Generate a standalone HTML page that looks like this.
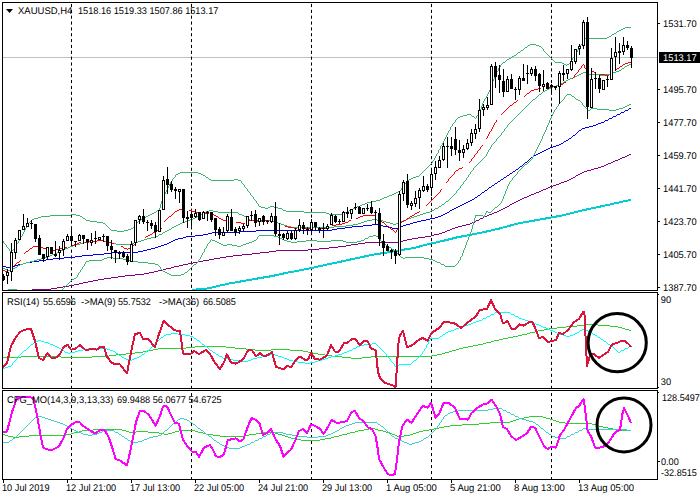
<!DOCTYPE html>
<html><head><meta charset="utf-8"><title>XAUUSD H4</title>
<style>
html,body{margin:0;padding:0;background:#fff;}
body{width:700px;height:500px;position:relative;overflow:hidden;font-family:"Liberation Sans",sans-serif;}
.t{position:absolute;font-family:"Liberation Sans",sans-serif;font-size:9.3px;line-height:12px;height:12px;white-space:nowrap;color:#000;text-rendering:geometricPrecision;transform-origin:0 9.3px;}
</style></head><body>
<svg width="700" height="500" viewBox="0 0 700 500" style="position:absolute;left:0;top:0">
<rect x="0" y="0" width="700" height="500" fill="#fff"/>
<defs><clipPath id="c1"><rect x="3" y="3" width="654" height="287"/></clipPath><clipPath id="c2"><rect x="3" y="293" width="654" height="95"/></clipPath><clipPath id="c3"><rect x="3" y="391" width="654" height="88"/></clipPath></defs>
<rect x="3" y="57" width="655" height="1" fill="#c0c0c0"/>
<line x1="71.5" y1="3" x2="71.5" y2="290" stroke="#000" stroke-width="1" stroke-dasharray="3.2 2.65" stroke-dashoffset="4.95"/>
<line x1="71.5" y1="293" x2="71.5" y2="388" stroke="#000" stroke-width="1" stroke-dasharray="3.1 2.90" stroke-dashoffset="3.20"/>
<line x1="71.5" y1="391" x2="71.5" y2="479" stroke="#000" stroke-width="1" stroke-dasharray="3.1 2.90" stroke-dashoffset="4.00"/>
<line x1="191.5" y1="3" x2="191.5" y2="290" stroke="#000" stroke-width="1" stroke-dasharray="3.2 2.65" stroke-dashoffset="4.95"/>
<line x1="191.5" y1="293" x2="191.5" y2="388" stroke="#000" stroke-width="1" stroke-dasharray="3.1 2.90" stroke-dashoffset="3.20"/>
<line x1="191.5" y1="391" x2="191.5" y2="479" stroke="#000" stroke-width="1" stroke-dasharray="3.1 2.90" stroke-dashoffset="4.00"/>
<line x1="311.5" y1="3" x2="311.5" y2="290" stroke="#000" stroke-width="1" stroke-dasharray="3.2 2.65" stroke-dashoffset="4.95"/>
<line x1="311.5" y1="293" x2="311.5" y2="388" stroke="#000" stroke-width="1" stroke-dasharray="3.1 2.90" stroke-dashoffset="3.20"/>
<line x1="311.5" y1="391" x2="311.5" y2="479" stroke="#000" stroke-width="1" stroke-dasharray="3.1 2.90" stroke-dashoffset="4.00"/>
<line x1="431.5" y1="3" x2="431.5" y2="290" stroke="#000" stroke-width="1" stroke-dasharray="3.2 2.65" stroke-dashoffset="4.95"/>
<line x1="431.5" y1="293" x2="431.5" y2="388" stroke="#000" stroke-width="1" stroke-dasharray="3.1 2.90" stroke-dashoffset="3.20"/>
<line x1="431.5" y1="391" x2="431.5" y2="479" stroke="#000" stroke-width="1" stroke-dasharray="3.1 2.90" stroke-dashoffset="4.00"/>
<line x1="551.5" y1="3" x2="551.5" y2="290" stroke="#000" stroke-width="1" stroke-dasharray="3.2 2.65" stroke-dashoffset="4.95"/>
<line x1="551.5" y1="293" x2="551.5" y2="388" stroke="#000" stroke-width="1" stroke-dasharray="3.1 2.90" stroke-dashoffset="3.20"/>
<line x1="551.5" y1="391" x2="551.5" y2="479" stroke="#000" stroke-width="1" stroke-dasharray="3.1 2.90" stroke-dashoffset="4.00"/>
<g clip-path="url(#c1)">
<polyline points="192.0,289.8 207.0,288.6 228.6,283.6 257.0,278.6 271.4,276.2 285.7,273.0 300.0,270.4 314.3,267.4 320.0,266.1 328.6,264.2 339.8,261.9 355.0,258.5 373.0,254.7 390.0,252.0 404.5,249.5 415.0,247.8 428.6,244.0 440.0,241.6 457.0,237.4 471.4,234.6 485.7,231.7 500.0,228.4 518.0,223.5 551.6,217.4 562.8,215.4 582.4,210.4 602.0,206.2 630.9,199.8" fill="none" stroke="#00ced1" stroke-width="2" stroke-linejoin="round" shape-rendering="crispEdges"/>
<path d="M365 242h34v1h-34zM319 248h10v1h-10zM629 154h2v1h-2zM174 266h5v1h-5zM412 238h6v1h-6zM425 236h6v1h-6zM69 285h5v1h-5zM260 252h9v1h-9zM88 281h5v1h-5zM193 262h5v1h-5zM462 225h4v1h-4zM598 167h3v1h-3zM494 212h3v1h-3zM536 192h3v1h-3zM32 289h19v1h-19zM276 250h32v1h-32zM418 237h7v1h-7zM226 256h7v1h-7zM358 243h7v1h-7zM569 179h2v1h-2zM104 278h7v1h-7zM125 275h10v1h-10zM163 269h3v1h-3zM522 198h2v1h-2zM98 279h6v1h-6zM111 277h7v1h-7zM553 185h3v1h-3zM269 251h7v1h-7zM144 273h5v1h-5zM587 170h4v1h-4zM209 259h5v1h-5zM518 200h2v1h-2zM611 162h2v1h-2zM505 207h2v1h-2zM308 249h11v1h-11zM548 187h2v1h-2zM233 255h9v1h-9zM484 216h3v1h-3zM407 239h5v1h-5zM135 274h9v1h-9zM452 228h3v1h-3zM188 263h5v1h-5zM625 156h2v1h-2zM83 282h5v1h-5zM564 181h3v1h-3zM594 168h4v1h-4zM242 254h10v1h-10zM118 276h7v1h-7zM351 244h7v1h-7zM434 234h5v1h-5zM489 214h3v1h-3zM158 270h5v1h-5zM578 174h2v1h-2zM338 246h8v1h-8zM51 288h6v1h-6zM606 164h2v1h-2zM203 260h6v1h-6zM329 247h9v1h-9zM403 240h4v1h-4zM57 287h6v1h-6zM79 283h4v1h-4zM514 202h2v1h-2zM183 264h5v1h-5zM501 209h2v1h-2zM543 189h3v1h-3zM346 245h5v1h-5zM559 183h2v1h-2zM529 195h2v1h-2zM476 220h3v1h-3zM63 286h6v1h-6zM171 267h3v1h-3zM252 253h8v1h-8zM524 197h3v1h-3zM458 226h4v1h-4zM601 166h3v1h-3zM571 178h2v1h-2zM431 235h3v1h-3zM74 284h5v1h-5zM466 224h4v1h-4zM510 204h2v1h-2zM497 211h2v1h-2zM584 171h3v1h-3zM439 233h3v1h-3zM166 268h5v1h-5zM613 161h2v1h-2zM550 186h3v1h-3zM472 222h3v1h-3zM220 257h6v1h-6zM455 227h3v1h-3zM520 199h2v1h-2zM93 280h5v1h-5zM154 271h4v1h-4zM556 184h3v1h-3zM492 213h2v1h-2zM567 180h2v1h-2zM179 265h4v1h-4zM198 261h5v1h-5zM561 182h3v1h-3zM531 194h3v1h-3zM214 258h6v1h-6zM512 203h2v1h-2zM608 163h3v1h-3zM503 208h2v1h-2zM546 188h2v1h-2zM450 229h2v1h-2zM582 172h2v1h-2zM149 272h5v1h-5zM516 201h2v1h-2zM591 169h3v1h-3zM620 158h2v1h-2zM527 196h2v1h-2zM399 241h4v1h-4zM604 165h2v1h-2zM499 210h2v1h-2zM573 177h2v1h-2zM442 232h3v1h-3zM470 223h2v1h-2zM480 218h3v1h-3zM615 160h3v1h-3zM447 230h3v1h-3zM622 157h3v1h-3zM534 193h2v1h-2zM487 215h2v1h-2zM580 173h2v1h-2zM507 206h2v1h-2zM445 231h2v1h-2zM618 159h2v1h-2zM541 190h2v1h-2zM576 175h2v1h-2zM539 191h2v1h-2zM627 155h2v1h-2zM475 221h1v1h-1zM479 219h1v1h-1zM509 205h1v1h-1zM575 176h1v1h-1zM483 217h1v1h-1z" fill="#800080" shape-rendering="crispEdges"/>
<path d="M32 261h7v1h-7zM212 232h28v1h-28zM430 218h5v1h-5zM18 264h5v1h-5zM195 235h8v1h-8zM64 257h11v1h-11zM460 205h2v1h-2zM492 185h2v1h-2zM485 190h2v1h-2zM256 230h76v1h-76zM240 231h16v1h-16zM363 225h9v1h-9zM379 225h4v1h-4zM403 225h3v1h-3zM596 124h2v1h-2zM147 249h4v1h-4zM111 252h27v1h-27zM605 120h3v1h-3zM337 228h8v1h-8zM392 228h6v1h-6zM104 253h7v1h-7zM93 254h11v1h-11zM601 122h3v1h-3zM155 247h3v1h-3zM417 221h4v1h-4zM569 138h2v1h-2zM352 226h11v1h-11zM383 226h5v1h-5zM400 226h3v1h-3zM372 224h7v1h-7zM406 224h4v1h-4zM561 143h2v1h-2zM82 255h11v1h-11zM186 236h9v1h-9zM203 234h5v1h-5zM53 258h11v1h-11zM531 157h2v1h-2zM171 241h2v1h-2zM573 135h2v1h-2zM3 266h3v1h-3zM10 266h5v1h-5zM456 207h2v1h-2zM489 187h2v1h-2zM143 250h4v1h-4zM589 126h4v1h-4zM550 147h3v1h-3zM498 181h2v1h-2zM151 248h4v1h-4zM510 173h2v1h-2zM183 237h3v1h-3zM75 256h7v1h-7zM438 216h3v1h-3zM26 262h6v1h-6zM6 267h4v1h-4zM556 145h3v1h-3zM345 227h7v1h-7zM388 227h4v1h-4zM398 227h2v1h-2zM167 243h2v1h-2zM138 251h5v1h-5zM452 209h2v1h-2zM161 245h3v1h-3zM426 219h4v1h-4zM621 112h3v1h-3zM525 162h2v1h-2zM546 149h2v1h-2zM178 238h5v1h-5zM495 183h2v1h-2zM39 260h7v1h-7zM475 197h2v1h-2zM507 175h2v1h-2zM413 222h4v1h-4zM598 123h3v1h-3zM158 246h3v1h-3zM421 220h5v1h-5zM617 114h3v1h-3zM458 206h2v1h-2zM164 244h3v1h-3zM208 233h4v1h-4zM585 127h4v1h-4zM173 240h2v1h-2zM332 229h5v1h-5zM472 199h2v1h-2zM548 148h2v1h-2zM169 242h2v1h-2zM410 223h3v1h-3zM593 125h3v1h-3zM544 150h2v1h-2zM435 217h3v1h-3zM553 146h3v1h-3zM613 116h3v1h-3zM582 128h3v1h-3zM454 208h2v1h-2zM609 118h3v1h-3zM15 265h3v1h-3zM504 177h2v1h-2zM516 169h2v1h-2zM540 152h2v1h-2zM629 108h2v1h-2zM520 166h2v1h-2zM23 263h3v1h-3zM478 195h2v1h-2zM513 171h2v1h-2zM579 130h2v1h-2zM450 210h2v1h-2zM559 144h2v1h-2zM447 212h2v1h-2zM501 179h2v1h-2zM175 239h3v1h-3zM470 200h2v1h-2zM536 154h2v1h-2zM482 192h2v1h-2zM466 202h2v1h-2zM46 259h7v1h-7zM443 214h2v1h-2zM566 140h2v1h-2zM462 204h2v1h-2zM625 110h3v1h-3zM542 151h2v1h-2zM445 213h2v1h-2zM538 153h2v1h-2zM468 201h2v1h-2zM441 215h2v1h-2zM534 155h2v1h-2zM464 203h2v1h-2zM564 141h2v1h-2zM620 113h1v1h-1zM494 184h1v1h-1zM616 115h1v1h-1zM506 176h1v1h-1zM519 167h1v1h-1zM524 163h1v1h-1zM578 131h1v1h-1zM480 194h1v1h-1zM568 139h1v1h-1zM529 159h1v1h-1zM612 117h1v1h-1zM484 191h1v1h-1zM530 158h1v1h-1zM572 136h1v1h-1zM577 132h1v1h-1zM523 164h1v1h-1zM497 182h1v1h-1zM527 161h1v1h-1zM571 137h1v1h-1zM528 160h1v1h-1zM533 156h1v1h-1zM488 188h1v1h-1zM474 198h1v1h-1zM518 168h1v1h-1zM576 133h1v1h-1zM563 142h1v1h-1zM509 174h1v1h-1zM522 165h1v1h-1zM581 129h1v1h-1zM608 119h1v1h-1zM500 180h1v1h-1zM487 189h1v1h-1zM477 196h1v1h-1zM575 134h1v1h-1zM628 109h1v1h-1zM491 186h1v1h-1zM449 211h1v1h-1zM604 121h1v1h-1zM512 172h1v1h-1zM624 111h1v1h-1zM503 178h1v1h-1zM481 193h1v1h-1zM515 170h1v1h-1z" fill="#0000e6" shape-rendering="crispEdges"/>
<path d="M259 206h2v1h-2zM270 206h4v1h-4zM357 206h3v1h-3zM178 173h2v1h-2zM198 173h3v1h-3zM625 27h6v1h-6zM203 175h2v1h-2zM411 178h2v1h-2zM32 219h2v1h-2zM50 215h21v1h-21zM76 215h4v1h-4zM148 215h2v1h-2zM211 180h23v1h-23zM238 180h3v1h-3zM407 180h2v1h-2zM34 218h4v1h-4zM83 218h2v1h-2zM142 218h2v1h-2zM380 199h2v1h-2zM180 172h18v1h-18zM71 214h5v1h-5zM150 214h2v1h-2zM329 214h14v1h-14zM362 204h3v1h-3zM518 52h2v1h-2zM398 191h2v1h-2zM528 45h2v1h-2zM536 45h3v1h-3zM394 193h2v1h-2zM97 222h6v1h-6zM154 212h2v1h-2zM304 212h22v1h-22zM345 212h3v1h-3zM41 216h9v1h-9zM80 216h2v1h-2zM146 216h2v1h-2zM416 176h3v1h-3zM530 44h6v1h-6zM514 55h2v1h-2zM206 177h2v1h-2zM413 177h3v1h-3zM396 192h2v1h-2zM286 211h18v1h-18zM617 31h2v1h-2zM367 202h4v1h-4zM585 38h22v1h-22zM609 36h2v1h-2zM117 231h7v1h-7zM463 115h4v1h-4zM152 213h2v1h-2zM326 213h3v1h-3zM343 213h2v1h-2zM562 63h2v1h-2zM261 207h4v1h-4zM268 207h2v1h-2zM274 207h4v1h-4zM507 59h2v1h-2zM86 220h4v1h-4zM564 64h2v1h-2zM567 64h2v1h-2zM90 221h7v1h-7zM138 221h2v1h-2zM503 62h2v1h-2zM555 62h7v1h-7zM614 33h2v1h-2zM265 208h3v1h-3zM278 208h4v1h-4zM353 208h3v1h-3zM376 200h4v1h-4zM128 229h3v1h-3zM387 196h2v1h-2zM209 179h2v1h-2zM234 179h4v1h-4zM409 179h2v1h-2zM458 117h2v1h-2zM157 210h2v1h-2zM283 210h3v1h-3zM349 210h3v1h-3zM392 194h2v1h-2zM111 230h6v1h-6zM124 230h4v1h-4zM38 217h3v1h-3zM144 217h2v1h-2zM525 47h2v1h-2zM389 195h3v1h-3zM539 46h2v1h-2zM365 203h2v1h-2zM512 56h2v1h-2zM131 228h2v1h-2zM176 174h2v1h-2zM201 174h2v1h-2zM460 116h3v1h-3zM472 116h2v1h-2zM360 205h2v1h-2zM509 58h2v1h-2zM521 50h2v1h-2zM382 198h2v1h-2zM371 201h5v1h-5zM384 197h3v1h-3zM467 114h4v1h-4zM623 28h2v1h-2zM103 223h2v1h-2zM619 30h2v1h-2zM11 250h2v1h-2zM607 37h2v1h-2zM621 29h2v1h-2zM612 34h2v1h-2zM166 190h1v2h-1zM484 99h1v2h-1zM168 186h1v2h-1zM161 201h1v3h-1zM486 96h1v2h-1zM492 81h1v3h-1zM479 112h1v2h-1zM496 72h1v3h-1zM14 248h1v1h-1zM256 201h1v2h-1zM425 169h1v1h-1zM426 168h1v1h-1zM477 115h1v1h-1zM483 101h1v2h-1zM495 75h1v1h-1zM85 219h1v1h-1zM438 150h1v3h-1zM440 146h1v3h-1zM257 203h1v1h-1zM505 61h1v1h-1zM352 209h1v1h-1zM444 139h1v2h-1zM3 241h1v2h-1zM424 170h1v1h-1zM584 39h1v2h-1zM159 208h1v2h-1zM455 120h1v2h-1zM17 243h1v1h-1zM19 239h1v2h-1zM517 53h1v1h-1zM248 191h1v1h-1zM451 126h1v1h-1zM580 45h1v2h-1zM164 194h1v2h-1zM163 196h1v3h-1zM165 192h1v2h-1zM454 122h1v1h-1zM482 103h1v3h-1zM160 204h1v4h-1zM582 42h1v2h-1zM453 123h1v1h-1zM169 184h1v2h-1zM493 79h1v2h-1zM401 188h1v2h-1zM403 186h1v1h-1zM516 54h1v1h-1zM404 184h1v2h-1zM249 192h1v1h-1zM258 204h1v2h-1zM452 124h1v2h-1zM450 127h1v3h-1zM25 228h1v2h-1zM434 158h1v2h-1zM400 190h1v1h-1zM402 187h1v1h-1zM436 154h1v2h-1zM520 51h1v1h-1zM9 249h1v2h-1zM162 199h1v2h-1zM511 57h1v1h-1zM134 225h1v2h-1zM500 65h1v2h-1zM167 188h1v2h-1zM15 246h1v2h-1zM435 156h1v2h-1zM241 181h1v2h-1zM576 52h1v1h-1zM250 193h1v2h-1zM543 49h1v2h-1zM578 48h1v2h-1zM481 106h1v3h-1zM480 109h1v3h-1zM498 68h1v3h-1zM491 84h1v3h-1zM499 67h1v1h-1zM24 230h1v2h-1zM471 115h1v1h-1zM282 209h1v1h-1zM442 143h1v2h-1zM448 131h1v2h-1zM575 53h1v2h-1zM577 50h1v2h-1zM447 133h1v2h-1zM449 130h1v1h-1zM23 232h1v2h-1zM247 189h1v2h-1zM6 245h1v2h-1zM432 161h1v2h-1zM487 94h1v2h-1zM581 44h1v1h-1zM583 41h1v1h-1zM456 119h1v1h-1zM457 118h1v1h-1zM348 211h1v1h-1zM431 163h1v1h-1zM572 58h1v2h-1zM574 55h1v2h-1zM31 220h1v1h-1zM446 135h1v2h-1zM406 181h1v2h-1zM476 116h1v2h-1zM20 237h1v2h-1zM175 175h1v2h-1zM490 87h1v3h-1zM7 247h1v1h-1zM27 224h1v2h-1zM571 60h1v2h-1zM422 172h1v1h-1zM573 57h1v1h-1zM30 221h1v1h-1zM445 137h1v2h-1zM171 181h1v1h-1zM173 178h1v1h-1zM489 90h1v2h-1zM136 223h1v1h-1zM137 222h1v1h-1zM8 248h1v1h-1zM26 226h1v2h-1zM420 174h1v1h-1zM421 173h1v1h-1zM106 225h1v1h-1zM524 48h1v1h-1zM544 51h1v1h-1zM244 185h1v2h-1zM170 182h1v2h-1zM172 179h1v2h-1zM488 92h1v2h-1zM133 227h1v1h-1zM253 197h1v2h-1zM135 224h1v1h-1zM502 63h1v1h-1zM419 175h1v1h-1zM443 141h1v2h-1zM107 226h1v1h-1zM545 52h1v1h-1zM205 176h1v1h-1zM523 49h1v1h-1zM245 187h1v1h-1zM494 76h1v3h-1zM254 199h1v1h-1zM506 60h1v1h-1zM13 249h1v1h-1zM16 244h1v2h-1zM18 241h1v2h-1zM616 32h1v1h-1zM108 227h1v1h-1zM82 217h1v1h-1zM5 244h1v1h-1zM246 188h1v1h-1zM255 200h1v1h-1zM439 149h1v1h-1zM552 59h1v1h-1zM547 54h1v1h-1zM433 160h1v1h-1zM110 229h1v1h-1zM548 55h1v1h-1zM174 177h1v1h-1zM105 224h1v1h-1zM22 234h1v2h-1zM429 165h1v1h-1zM430 164h1v1h-1zM485 98h1v1h-1zM29 222h1v1h-1zM405 183h1v1h-1zM141 219h1v1h-1zM252 196h1v1h-1zM427 167h1v1h-1zM428 166h1v1h-1zM28 223h1v1h-1zM549 56h1v1h-1zM437 153h1v1h-1zM474 117h1v1h-1zM140 220h1v1h-1zM356 207h1v1h-1zM554 61h1v1h-1zM243 184h1v1h-1zM501 64h1v1h-1zM527 46h1v1h-1zM550 57h1v1h-1zM478 114h1v1h-1zM579 47h1v1h-1zM546 53h1v1h-1zM566 65h1v1h-1zM475 118h1v1h-1zM4 243h1v1h-1zM541 47h1v1h-1zM569 63h1v1h-1zM570 62h1v1h-1zM423 171h1v1h-1zM551 58h1v1h-1zM109 228h1v1h-1zM611 35h1v1h-1zM156 211h1v1h-1zM553 60h1v1h-1zM497 71h1v1h-1zM441 145h1v1h-1zM542 48h1v1h-1zM242 183h1v1h-1zM251 195h1v1h-1zM10 251h1v1h-1zM208 178h1v1h-1zM21 236h1v1h-1z" fill="#3cb371" shape-rendering="crispEdges"/>
<path d="M195 217h2v1h-2zM411 217h3v1h-3zM190 219h3v1h-3zM372 219h5v1h-5zM406 219h2v1h-2zM89 241h8v1h-8zM103 241h3v1h-3zM138 241h3v1h-3zM178 224h2v1h-2zM281 224h3v1h-3zM353 224h5v1h-5zM393 224h3v1h-3zM172 227h2v1h-2zM291 227h43v1h-43zM204 212h2v1h-2zM218 212h20v1h-20zM426 212h4v1h-4zM625 66h2v1h-2zM41 258h3v1h-3zM18 265h2v1h-2zM73 245h3v1h-3zM570 78h3v1h-3zM187 220h3v1h-3zM250 220h4v1h-4zM264 220h9v1h-9zM367 220h5v1h-5zM377 220h6v1h-6zM403 220h3v1h-3zM84 242h5v1h-5zM106 242h5v1h-5zM134 242h4v1h-4zM8 270h4v1h-4zM182 222h3v1h-3zM275 222h3v1h-3zM361 222h3v1h-3zM386 222h4v1h-4zM398 222h3v1h-3zM176 225h2v1h-2zM284 225h3v1h-3zM346 225h7v1h-7zM52 254h3v1h-3zM180 223h2v1h-2zM278 223h3v1h-3zM358 223h3v1h-3zM390 223h3v1h-3zM396 223h2v1h-2zM193 218h2v1h-2zM247 218h2v1h-2zM408 218h3v1h-3zM47 256h3v1h-3zM97 240h6v1h-6zM141 240h3v1h-3zM80 243h4v1h-4zM111 243h5v1h-5zM131 243h3v1h-3zM57 252h3v1h-3zM185 221h2v1h-2zM254 221h10v1h-10zM273 221h2v1h-2zM364 221h3v1h-3zM383 221h3v1h-3zM401 221h2v1h-2zM167 230h2v1h-2zM197 216h2v1h-2zM244 216h2v1h-2zM414 216h3v1h-3zM616 71h3v1h-3zM533 99h2v1h-2zM37 259h4v1h-4zM76 244h4v1h-4zM116 244h15v1h-15zM206 211h3v1h-3zM213 211h5v1h-5zM559 84h2v1h-2zM15 267h2v1h-2zM201 214h2v1h-2zM239 214h3v1h-3zM420 214h3v1h-3zM44 257h3v1h-3zM579 74h2v1h-2zM589 74h11v1h-11zM605 74h5v1h-5zM163 232h2v1h-2zM26 262h4v1h-4zM174 226h2v1h-2zM287 226h4v1h-4zM334 226h12v1h-12zM30 261h4v1h-4zM55 253h2v1h-2zM147 238h4v1h-4zM553 86h3v1h-3zM627 65h2v1h-2zM583 72h4v1h-4zM613 72h3v1h-3zM20 264h3v1h-3zM159 234h3v1h-3zM619 70h2v1h-2zM577 75h2v1h-2zM600 75h5v1h-5zM439 206h2v1h-2zM199 215h2v1h-2zM242 215h2v1h-2zM417 215h3v1h-3zM169 229h2v1h-2zM423 213h3v1h-3zM70 246h3v1h-3zM155 236h3v1h-3zM561 83h2v1h-2zM566 80h2v1h-2zM151 237h4v1h-4zM556 85h3v1h-3zM435 208h3v1h-3zM165 231h2v1h-2zM5 269h3v1h-3zM3 268h2v1h-2zM13 268h2v1h-2zM65 248h3v1h-3zM34 260h3v1h-3zM581 73h2v1h-2zM587 73h2v1h-2zM610 73h3v1h-3zM144 239h3v1h-3zM209 210h4v1h-4zM431 210h3v1h-3zM629 64h2v1h-2zM23 263h3v1h-3zM68 247h2v1h-2zM549 88h2v1h-2zM568 79h2v1h-2zM622 68h2v1h-2zM442 204h2v1h-2zM545 90h2v1h-2zM564 81h2v1h-2zM446 201h2v1h-2zM50 255h2v1h-2zM575 76h2v1h-2zM551 87h2v1h-2zM61 250h3v1h-3zM547 89h2v1h-2zM539 94h2v1h-2zM573 77h2v1h-2zM543 91h2v1h-2zM624 67h1v1h-1zM517 115h1v1h-1zM563 82h1v1h-1zM525 107h1v1h-1zM451 197h1v1h-1zM500 135h1v1h-1zM515 117h1v1h-1zM430 211h1v1h-1zM523 109h1v1h-1zM484 157h1v1h-1zM486 154h1v2h-1zM444 203h1v1h-1zM485 156h1v1h-1zM487 152h1v2h-1zM450 198h1v1h-1zM496 139h1v2h-1zM498 137h1v1h-1zM499 136h1v1h-1zM482 159h1v1h-1zM468 175h1v2h-1zM483 158h1v1h-1zM448 200h1v1h-1zM449 199h1v1h-1zM495 141h1v1h-1zM464 181h1v1h-1zM466 178h1v2h-1zM481 160h1v1h-1zM513 119h1v1h-1zM491 145h1v2h-1zM460 186h1v2h-1zM511 121h1v1h-1zM64 249h1v1h-1zM507 125h1v2h-1zM526 106h1v1h-1zM12 269h1v1h-1zM501 133h1v2h-1zM503 131h1v1h-1zM504 129h1v2h-1zM506 127h1v1h-1zM524 108h1v1h-1zM532 100h1v1h-1zM502 132h1v1h-1zM470 172h1v2h-1zM473 168h1v2h-1zM456 191h1v2h-1zM467 177h1v1h-1zM469 174h1v1h-1zM514 118h1v1h-1zM521 111h1v1h-1zM463 182h1v2h-1zM162 233h1v1h-1zM203 213h1v1h-1zM497 138h1v1h-1zM512 120h1v1h-1zM519 113h1v1h-1zM520 112h1v1h-1zM249 219h1v1h-1zM493 143h1v1h-1zM438 207h1v1h-1zM158 235h1v1h-1zM479 162h1v1h-1zM480 161h1v1h-1zM492 144h1v1h-1zM60 251h1v1h-1zM477 164h1v1h-1zM478 163h1v1h-1zM538 95h1v1h-1zM509 123h1v1h-1zM536 97h1v1h-1zM537 96h1v1h-1zM505 128h1v1h-1zM542 92h1v1h-1zM522 110h1v1h-1zM530 102h1v1h-1zM475 166h1v1h-1zM488 150h1v2h-1zM490 147h1v2h-1zM459 188h1v1h-1zM461 185h1v1h-1zM528 104h1v1h-1zM471 171h1v1h-1zM455 193h1v1h-1zM457 190h1v1h-1zM453 195h1v1h-1zM454 194h1v1h-1zM434 209h1v1h-1zM510 122h1v1h-1zM518 114h1v1h-1zM452 196h1v1h-1zM441 205h1v1h-1zM508 124h1v1h-1zM516 116h1v1h-1zM171 228h1v1h-1zM445 202h1v1h-1zM465 180h1v1h-1zM541 93h1v1h-1zM531 101h1v1h-1zM476 165h1v1h-1zM462 184h1v1h-1zM472 170h1v1h-1zM529 103h1v1h-1zM474 167h1v1h-1zM535 98h1v1h-1zM458 189h1v1h-1zM489 149h1v1h-1zM494 142h1v1h-1zM238 213h1v1h-1zM527 105h1v1h-1zM17 266h1v1h-1zM246 217h1v1h-1zM621 69h1v1h-1z" fill="#3cb371" shape-rendering="crispEdges"/>
<path d="M8 289h9v1h-9z" fill="#3cb371" shape-rendering="crispEdges"/>
<path d="M215 241h2v1h-2zM252 241h2v1h-2zM287 241h4v1h-4zM297 241h9v1h-9zM317 241h14v1h-14zM343 241h3v1h-3zM357 241h4v1h-4zM597 109h12v1h-12zM616 109h3v1h-3zM280 238h2v1h-2zM365 238h3v1h-3zM171 275h10v1h-10zM629 104h2v1h-2zM282 239h2v1h-2zM217 242h2v1h-2zM249 242h3v1h-3zM291 242h6v1h-6zM346 242h11v1h-11zM259 235h15v1h-15zM373 235h3v1h-3zM138 262h10v1h-10zM437 262h3v1h-3zM588 110h2v1h-2zM609 110h7v1h-7zM212 240h3v1h-3zM254 240h2v1h-2zM284 240h3v1h-3zM306 240h11v1h-11zM331 240h12v1h-12zM361 240h3v1h-3zM89 260h13v1h-13zM128 260h5v1h-5zM433 260h2v1h-2zM591 108h6v1h-6zM619 108h4v1h-4zM278 237h2v1h-2zM102 259h2v1h-2zM123 259h5v1h-5zM429 259h4v1h-4zM445 266h10v1h-10zM495 207h2v1h-2zM237 246h4v1h-4zM483 216h2v1h-2zM155 264h3v1h-3zM194 264h2v1h-2zM441 264h3v1h-3zM107 257h6v1h-6zM401 257h2v1h-2zM405 257h19v1h-19zM274 236h4v1h-4zM369 236h4v1h-4zM376 236h2v1h-2zM104 258h3v1h-3zM113 258h10v1h-10zM403 258h2v1h-2zM424 258h5v1h-5zM148 263h7v1h-7zM576 99h2v1h-2zM475 215h8v1h-8zM167 273h2v1h-2zM627 105h2v1h-2zM221 244h2v1h-2zM227 244h5v1h-5zM243 244h3v1h-3zM486 211h2v1h-2zM219 243h2v1h-2zM246 243h3v1h-3zM383 243h2v1h-2zM488 212h3v1h-3zM165 272h2v1h-2zM185 272h2v1h-2zM223 245h4v1h-4zM232 245h5v1h-5zM241 245h2v1h-2zM386 245h2v1h-2zM169 274h2v1h-2zM181 274h3v1h-3zM392 249h2v1h-2zM86 261h3v1h-3zM133 261h5v1h-5zM435 261h2v1h-2zM525 164h2v1h-2zM625 106h2v1h-2zM572 96h2v1h-2zM74 278h2v1h-2zM567 94h4v1h-4zM163 271h2v1h-2zM389 247h2v1h-2zM72 279h2v1h-2zM578 100h2v1h-2zM623 107h2v1h-2zM395 251h1v1h-1zM463 250h1v3h-1zM559 103h1v1h-1zM68 283h1v1h-1zM539 143h1v2h-1zM550 118h1v2h-1zM552 114h1v2h-1zM551 116h1v2h-1zM543 134h1v2h-1zM545 130h1v2h-1zM504 194h1v2h-1zM571 95h1v1h-1zM396 252h1v1h-1zM468 237h1v3h-1zM582 103h1v2h-1zM508 184h1v2h-1zM524 165h1v1h-1zM503 196h1v3h-1zM197 262h1v1h-1zM532 157h1v2h-1zM192 266h1v1h-1zM378 237h1v1h-1zM507 186h1v3h-1zM161 269h1v1h-1zM204 249h1v3h-1zM206 246h1v2h-1zM205 248h1v1h-1zM517 172h1v2h-1zM190 268h1v1h-1zM191 267h1v1h-1zM379 238h1v1h-1zM77 275h1v2h-1zM460 257h1v3h-1zM397 253h1v1h-1zM462 253h1v3h-1zM474 218h1v4h-1zM162 270h1v1h-1zM537 147h1v2h-1zM549 120h1v3h-1zM523 166h1v1h-1zM189 269h1v1h-1zM553 112h1v2h-1zM485 213h1v2h-1zM466 242h1v3h-1zM505 191h1v3h-1zM584 106h1v1h-1zM184 273h1v1h-1zM470 232h1v3h-1zM71 280h1v1h-1zM399 255h1v1h-1zM385 244h1v1h-1zM506 189h1v2h-1zM535 151h1v2h-1zM202 253h1v2h-1zM201 255h1v2h-1zM203 252h1v1h-1zM69 282h1v1h-1zM546 127h1v3h-1zM586 108h1v1h-1zM541 139h1v2h-1zM547 125h1v2h-1zM84 264h1v2h-1zM458 261h1v2h-1zM459 260h1v1h-1zM473 222h1v3h-1zM494 208h1v1h-1zM400 256h1v1h-1zM499 204h1v1h-1zM540 141h1v2h-1zM257 237h1v2h-1zM85 262h1v2h-1zM455 265h1v1h-1zM258 236h1v1h-1zM472 225h1v4h-1zM469 235h1v2h-1zM200 257h1v2h-1zM587 109h1v1h-1zM207 244h1v2h-1zM210 240h1v2h-1zM464 248h1v2h-1zM531 159h1v1h-1zM199 259h1v1h-1zM583 105h1v1h-1zM533 155h1v2h-1zM538 145h1v2h-1zM563 99h1v1h-1zM509 182h1v2h-1zM160 267h1v2h-1zM530 160h1v1h-1zM467 240h1v2h-1zM196 263h1v1h-1zM198 260h1v2h-1zM529 161h1v1h-1zM79 272h1v1h-1zM561 101h1v1h-1zM81 269h1v1h-1zM82 267h1v2h-1zM527 163h1v1h-1zM471 229h1v3h-1zM528 162h1v1h-1zM380 239h1v2h-1zM391 248h1v1h-1zM188 270h1v1h-1zM555 109h1v1h-1zM557 106h1v1h-1zM556 107h1v2h-1zM78 273h1v2h-1zM558 104h1v2h-1zM80 270h1v2h-1zM501 201h1v2h-1zM475 216h1v2h-1zM585 107h1v1h-1zM534 153h1v2h-1zM536 149h1v2h-1zM187 271h1v1h-1zM542 136h1v3h-1zM521 168h1v1h-1zM364 239h1v1h-1zM554 110h1v2h-1zM548 123h1v2h-1zM544 132h1v2h-1zM500 203h1v1h-1zM502 199h1v2h-1zM465 245h1v3h-1zM574 97h1v1h-1zM519 170h1v1h-1zM520 169h1v1h-1zM158 265h1v1h-1zM498 205h1v1h-1zM67 284h1v1h-1zM515 175h1v1h-1zM493 209h1v1h-1zM516 174h1v1h-1zM159 266h1v1h-1zM76 277h1v1h-1zM461 256h1v1h-1zM65 286h1v1h-1zM66 285h1v1h-1zM566 95h1v1h-1zM491 211h1v1h-1zM512 178h1v2h-1zM492 210h1v1h-1zM564 97h1v2h-1zM575 98h1v1h-1zM209 242h1v1h-1zM211 239h1v1h-1zM562 100h1v1h-1zM381 241h1v1h-1zM565 96h1v1h-1zM64 287h1v1h-1zM208 243h1v1h-1zM382 242h1v1h-1zM522 167h1v1h-1zM457 263h1v1h-1zM590 109h1v1h-1zM368 237h1v1h-1zM444 265h1v1h-1zM256 239h1v1h-1zM193 265h1v1h-1zM580 101h1v1h-1zM581 102h1v1h-1zM484 215h1v1h-1zM486 212h1v1h-1zM518 171h1v1h-1zM497 206h1v1h-1zM398 254h1v1h-1zM514 176h1v1h-1zM511 180h1v1h-1zM440 263h1v1h-1zM394 250h1v1h-1zM510 181h1v1h-1zM513 177h1v1h-1zM62 289h1v1h-1zM560 102h1v1h-1zM63 288h1v1h-1zM388 246h1v1h-1zM83 266h1v1h-1zM456 264h1v1h-1zM70 281h1v1h-1z" fill="#3cb371" shape-rendering="crispEdges"/>
<path d="M5 271h2v1h-2zM3 270h2v1h-2z" fill="#ff0000" shape-rendering="crispEdges"/>
<path d="M17 262h2v1h-2zM14 265h1v1h-1zM19 261h1v1h-1zM16 263h1v1h-1zM15 264h1v1h-1zM20 260h1v1h-1z" fill="#ff0000" shape-rendering="crispEdges"/>
<path d="M30 248h2v1h-2zM26 251h2v1h-2zM33 246h5v1h-5zM28 250h1v1h-1zM24 253h1v1h-1zM25 252h1v1h-1zM32 247h1v1h-1zM29 249h1v1h-1z" fill="#ff0000" shape-rendering="crispEdges"/>
<path d="M43 248h4v1h-4zM41 247h2v1h-2z" fill="#ff0000" shape-rendering="crispEdges"/>
<path d="M55 249h4v1h-4zM59 248h5v1h-5zM52 250h3v1h-3zM64 247h3v1h-3z" fill="#ff0000" shape-rendering="crispEdges"/>
<path d="M72 245h2v1h-2zM77 243h2v1h-2zM79 242h2v1h-2zM74 244h3v1h-3z" fill="#ff0000" shape-rendering="crispEdges"/>
<path d="M89 241h8v1h-8zM103 241h2v1h-2zM97 240h6v1h-6zM85 242h4v1h-4z" fill="#ff0000" shape-rendering="crispEdges"/>
<path d="M108 242h3v1h-3zM111 243h3v1h-3z" fill="#ff0000" shape-rendering="crispEdges"/>
<path d="M124 248h3v1h-3zM128 248h2v1h-2zM132 245h2v1h-2zM121 246h2v1h-2zM131 246h1v1h-1zM134 244h1v1h-1zM130 247h1v1h-1zM123 247h1v1h-1zM127 249h1v1h-1z" fill="#ff0000" shape-rendering="crispEdges"/>
<path d="M159 229h2v1h-2zM153 232h2v1h-2zM148 235h2v1h-2zM146 236h2v1h-2zM155 231h2v1h-2zM150 234h2v1h-2zM157 230h2v1h-2zM152 233h1v1h-1zM145 237h1v1h-1zM161 228h1v1h-1z" fill="#ff0000" shape-rendering="crispEdges"/>
<path d="M179 209h4v1h-4zM177 210h2v1h-2zM169 216h2v1h-2zM175 211h2v1h-2zM168 217h1v1h-1zM166 219h1v1h-1zM173 213h1v1h-1zM171 215h1v1h-1zM167 218h1v1h-1zM174 212h1v1h-1zM172 214h1v1h-1zM164 221h1v1h-1zM165 220h1v1h-1z" fill="#ff0000" shape-rendering="crispEdges"/>
<path d="M192 211h4v1h-4zM189 210h3v1h-3zM196 212h3v1h-3z" fill="#ff0000" shape-rendering="crispEdges"/>
<path d="M204 213h5v1h-5z" fill="#ff0000" shape-rendering="crispEdges"/>
<path d="M223 220h4v1h-4zM216 216h2v1h-2zM221 219h2v1h-2zM219 218h2v1h-2zM214 215h2v1h-2zM213 214h1v1h-1zM218 217h1v1h-1z" fill="#ff0000" shape-rendering="crispEdges"/>
<path d="M241 223h4v1h-4zM236 222h5v1h-5z" fill="#ff0000" shape-rendering="crispEdges"/>
<path d="M249 220h20v1h-20z" fill="#ff0000" shape-rendering="crispEdges"/>
<path d="M285 226h3v1h-3zM294 228h3v1h-3zM288 227h6v1h-6z" fill="#ff0000" shape-rendering="crispEdges"/>
<path d="M302 228h11v1h-11z" fill="#ff0000" shape-rendering="crispEdges"/>
<path d="M318 228h11v1h-11z" fill="#ff0000" shape-rendering="crispEdges"/>
<path d="M349 220h2v1h-2zM332 225h4v1h-4zM336 224h6v1h-6zM342 223h3v1h-3zM345 222h3v1h-3zM348 221h1v1h-1z" fill="#ff0000" shape-rendering="crispEdges"/>
<path d="M363 215h12v1h-12zM356 218h2v1h-2zM360 216h3v1h-3zM358 217h2v1h-2z" fill="#ff0000" shape-rendering="crispEdges"/>
<path d="M382 222h2v1h-2zM384 223h1v1h-1zM386 225h1v1h-1zM381 221h1v1h-1zM385 224h1v1h-1zM380 220h1v1h-1z" fill="#ff0000" shape-rendering="crispEdges"/>
<path d="M391 229h2v1h-2zM395 232h1v1h-1zM390 228h1v1h-1zM397 229h1v1h-1zM396 230h1v2h-1zM398 227h1v2h-1zM389 227h1v1h-1zM393 230h1v1h-1zM394 231h1v1h-1zM388 226h1v1h-1z" fill="#ff0000" shape-rendering="crispEdges"/>
<path d="M410 216h2v1h-2zM412 215h2v1h-2zM402 221h2v1h-2zM404 220h2v1h-2zM415 213h2v1h-2zM417 212h2v1h-2zM407 218h2v1h-2zM401 222h1v1h-1zM414 214h1v1h-1zM406 219h1v1h-1zM409 217h1v1h-1zM419 211h1v1h-1z" fill="#ff0000" shape-rendering="crispEdges"/>
<path d="M427 204h1v1h-1zM428 203h1v1h-1zM440 190h1v2h-1zM438 193h1v1h-1zM431 200h1v1h-1zM437 194h1v1h-1zM426 205h1v1h-1zM429 202h1v1h-1zM435 196h1v1h-1zM430 201h1v1h-1zM432 199h1v1h-1zM433 198h1v1h-1zM439 192h1v1h-1zM441 189h1v1h-1zM436 195h1v1h-1zM434 197h1v1h-1z" fill="#ff0000" shape-rendering="crispEdges"/>
<path d="M459 168h3v1h-3zM456 170h2v1h-2zM452 175h1v1h-1zM448 179h1v2h-1zM450 177h1v1h-1zM453 174h1v1h-1zM462 167h1v1h-1zM454 172h1v2h-1zM451 176h1v1h-1zM447 181h1v1h-1zM449 178h1v1h-1zM446 182h1v1h-1zM458 169h1v1h-1zM455 171h1v1h-1z" fill="#ff0000" shape-rendering="crispEdges"/>
<path d="M474 155h1v2h-1zM480 147h1v2h-1zM469 162h1v1h-1zM472 158h1v1h-1zM481 146h1v1h-1zM475 154h1v1h-1zM477 151h1v2h-1zM470 161h1v1h-1zM471 159h1v2h-1zM473 157h1v1h-1zM482 145h1v1h-1zM476 153h1v1h-1zM478 150h1v1h-1zM479 149h1v1h-1z" fill="#ff0000" shape-rendering="crispEdges"/>
<path d="M496 120h1v2h-1zM488 134h1v2h-1zM490 131h1v1h-1zM489 132h1v2h-1zM492 127h1v2h-1zM491 129h1v2h-1zM493 125h1v2h-1zM486 138h1v1h-1zM487 136h1v2h-1zM494 123h1v2h-1zM495 122h1v1h-1z" fill="#ff0000" shape-rendering="crispEdges"/>
<path d="M514 102h2v1h-2zM510 105h2v1h-2zM513 103h1v1h-1zM505 110h1v1h-1zM507 108h1v1h-1zM508 107h1v1h-1zM517 100h1v1h-1zM509 106h1v1h-1zM506 109h1v1h-1zM502 113h1v1h-1zM503 112h1v1h-1zM504 111h1v1h-1zM501 114h1v1h-1zM516 101h1v1h-1zM512 104h1v1h-1z" fill="#ff0000" shape-rendering="crispEdges"/>
<path d="M538 88h3v1h-3zM531 90h3v1h-3zM527 93h2v1h-2zM534 89h4v1h-4zM526 94h1v1h-1zM525 95h1v1h-1zM524 96h1v1h-1zM529 92h1v1h-1zM530 91h1v1h-1z" fill="#ff0000" shape-rendering="crispEdges"/>
<path d="M548 87h4v1h-4zM552 86h4v1h-4z" fill="#ff0000" shape-rendering="crispEdges"/>
<path d="M561 84h2v1h-2zM564 82h2v1h-2zM563 83h1v1h-1z" fill="#ff0000" shape-rendering="crispEdges"/>
<path d="M577 72h1v1h-1zM579 69h1v1h-1zM582 65h1v1h-1zM576 73h1v1h-1zM578 70h1v2h-1zM573 77h1v1h-1zM581 66h1v2h-1zM584 65h1v3h-1zM572 78h1v1h-1zM574 75h1v2h-1zM575 74h1v1h-1zM585 68h1v1h-1zM583 64h1v1h-1zM580 68h1v1h-1z" fill="#ff0000" shape-rendering="crispEdges"/>
<path d="M594 72h2v1h-2zM592 71h2v1h-2z" fill="#ff0000" shape-rendering="crispEdges"/>
<path d="M605 75h4v1h-4zM600 74h5v1h-5z" fill="#ff0000" shape-rendering="crispEdges"/>
<path d="M628 62h3v1h-3zM617 68h2v1h-2zM625 63h3v1h-3zM623 64h2v1h-2zM620 66h2v1h-2zM622 65h1v1h-1zM619 67h1v1h-1zM616 69h1v1h-1z" fill="#ff0000" shape-rendering="crispEdges"/>
<g shape-rendering="crispEdges">
<rect x="3" y="274" width="1" height="7" fill="#000"/>
<rect x="2" y="276" width="3" height="4" fill="#000"/>
<rect x="7" y="269" width="1" height="15" fill="#000"/>
<rect x="6" y="272" width="3" height="4" fill="#000"/>
<rect x="7" y="273" width="1" height="2" fill="#fff"/>
<rect x="11" y="243" width="1" height="38" fill="#000"/>
<rect x="10" y="252" width="3" height="20" fill="#000"/>
<rect x="11" y="253" width="1" height="18" fill="#fff"/>
<rect x="15" y="238" width="1" height="21" fill="#000"/>
<rect x="14" y="240" width="3" height="13" fill="#000"/>
<rect x="15" y="241" width="1" height="11" fill="#fff"/>
<rect x="19" y="230" width="1" height="10" fill="#000"/>
<rect x="18" y="230" width="3" height="10" fill="#000"/>
<rect x="19" y="231" width="1" height="8" fill="#fff"/>
<rect x="23" y="214" width="1" height="16" fill="#000"/>
<rect x="22" y="226" width="3" height="4" fill="#000"/>
<rect x="23" y="227" width="1" height="2" fill="#fff"/>
<rect x="27" y="218" width="1" height="9" fill="#000"/>
<rect x="26" y="223" width="3" height="4" fill="#000"/>
<rect x="27" y="224" width="1" height="2" fill="#fff"/>
<rect x="31" y="220" width="1" height="9" fill="#000"/>
<rect x="30" y="223" width="3" height="1" fill="#000"/>
<rect x="35" y="224" width="1" height="18" fill="#000"/>
<rect x="34" y="224" width="3" height="15" fill="#000"/>
<rect x="39" y="235" width="1" height="20" fill="#000"/>
<rect x="38" y="238" width="3" height="17" fill="#000"/>
<rect x="43" y="254" width="1" height="8" fill="#000"/>
<rect x="42" y="254" width="3" height="5" fill="#000"/>
<rect x="47" y="247" width="1" height="12" fill="#000"/>
<rect x="46" y="247" width="3" height="10" fill="#000"/>
<rect x="47" y="248" width="1" height="8" fill="#fff"/>
<rect x="51" y="247" width="1" height="7" fill="#000"/>
<rect x="50" y="247" width="3" height="7" fill="#000"/>
<rect x="55" y="241" width="1" height="16" fill="#000"/>
<rect x="54" y="254" width="3" height="2" fill="#000"/>
<rect x="59" y="246" width="1" height="14" fill="#000"/>
<rect x="58" y="250" width="3" height="3" fill="#000"/>
<rect x="59" y="251" width="1" height="1" fill="#fff"/>
<rect x="63" y="239" width="1" height="17" fill="#000"/>
<rect x="62" y="241" width="3" height="9" fill="#000"/>
<rect x="63" y="242" width="1" height="7" fill="#fff"/>
<rect x="67" y="234" width="1" height="7" fill="#000"/>
<rect x="66" y="236" width="3" height="5" fill="#000"/>
<rect x="67" y="237" width="1" height="3" fill="#fff"/>
<rect x="71" y="229" width="1" height="15" fill="#000"/>
<rect x="70" y="236" width="3" height="5" fill="#000"/>
<rect x="75" y="241" width="1" height="6" fill="#000"/>
<rect x="74" y="241" width="3" height="1" fill="#000"/>
<rect x="79" y="234" width="1" height="7" fill="#000"/>
<rect x="78" y="235" width="3" height="6" fill="#000"/>
<rect x="79" y="236" width="1" height="4" fill="#fff"/>
<rect x="83" y="235" width="1" height="9" fill="#000"/>
<rect x="82" y="235" width="3" height="4" fill="#000"/>
<rect x="87" y="239" width="1" height="11" fill="#000"/>
<rect x="86" y="239" width="3" height="3" fill="#000"/>
<rect x="91" y="233" width="1" height="13" fill="#000"/>
<rect x="90" y="240" width="3" height="3" fill="#000"/>
<rect x="91" y="241" width="1" height="1" fill="#fff"/>
<rect x="95" y="231" width="1" height="13" fill="#000"/>
<rect x="94" y="238" width="3" height="1" fill="#000"/>
<rect x="99" y="237" width="1" height="3" fill="#000"/>
<rect x="98" y="237" width="3" height="3" fill="#000"/>
<rect x="99" y="238" width="1" height="1" fill="#fff"/>
<rect x="103" y="234" width="1" height="8" fill="#000"/>
<rect x="102" y="236" width="3" height="1" fill="#000"/>
<rect x="107" y="236" width="1" height="15" fill="#000"/>
<rect x="106" y="236" width="3" height="10" fill="#000"/>
<rect x="111" y="240" width="1" height="19" fill="#000"/>
<rect x="110" y="246" width="3" height="4" fill="#000"/>
<rect x="115" y="250" width="1" height="13" fill="#000"/>
<rect x="114" y="250" width="3" height="3" fill="#000"/>
<rect x="119" y="251" width="1" height="8" fill="#000"/>
<rect x="118" y="253" width="3" height="1" fill="#000"/>
<rect x="123" y="251" width="1" height="7" fill="#000"/>
<rect x="122" y="253" width="3" height="4" fill="#000"/>
<rect x="127" y="254" width="1" height="11" fill="#000"/>
<rect x="126" y="256" width="3" height="6" fill="#000"/>
<rect x="131" y="241" width="1" height="21" fill="#000"/>
<rect x="130" y="244" width="3" height="18" fill="#000"/>
<rect x="131" y="245" width="1" height="16" fill="#fff"/>
<rect x="135" y="220" width="1" height="26" fill="#000"/>
<rect x="134" y="220" width="3" height="23" fill="#000"/>
<rect x="135" y="221" width="1" height="21" fill="#fff"/>
<rect x="139" y="215" width="1" height="9" fill="#000"/>
<rect x="138" y="216" width="3" height="4" fill="#000"/>
<rect x="139" y="217" width="1" height="2" fill="#fff"/>
<rect x="143" y="209" width="1" height="15" fill="#000"/>
<rect x="142" y="216" width="3" height="6" fill="#000"/>
<rect x="147" y="220" width="1" height="11" fill="#000"/>
<rect x="146" y="222" width="3" height="1" fill="#000"/>
<rect x="151" y="220" width="1" height="9" fill="#000"/>
<rect x="150" y="223" width="3" height="3" fill="#000"/>
<rect x="155" y="222" width="1" height="16" fill="#000"/>
<rect x="154" y="225" width="3" height="7" fill="#000"/>
<rect x="159" y="210" width="1" height="22" fill="#000"/>
<rect x="158" y="210" width="3" height="22" fill="#000"/>
<rect x="159" y="211" width="1" height="20" fill="#fff"/>
<rect x="163" y="176" width="1" height="34" fill="#000"/>
<rect x="162" y="180" width="3" height="30" fill="#000"/>
<rect x="163" y="181" width="1" height="28" fill="#fff"/>
<rect x="167" y="167" width="1" height="27" fill="#000"/>
<rect x="166" y="179" width="3" height="6" fill="#000"/>
<rect x="171" y="181" width="1" height="11" fill="#000"/>
<rect x="170" y="184" width="3" height="6" fill="#000"/>
<rect x="175" y="187" width="1" height="12" fill="#000"/>
<rect x="174" y="189" width="3" height="2" fill="#000"/>
<rect x="179" y="189" width="1" height="14" fill="#000"/>
<rect x="178" y="189" width="3" height="3" fill="#000"/>
<rect x="179" y="190" width="1" height="1" fill="#fff"/>
<rect x="183" y="189" width="1" height="34" fill="#000"/>
<rect x="182" y="189" width="3" height="29" fill="#000"/>
<rect x="187" y="211" width="1" height="17" fill="#000"/>
<rect x="186" y="217" width="3" height="2" fill="#000"/>
<rect x="191" y="212" width="1" height="14" fill="#000"/>
<rect x="190" y="214" width="3" height="4" fill="#000"/>
<rect x="195" y="209" width="1" height="9" fill="#000"/>
<rect x="194" y="213" width="3" height="4" fill="#000"/>
<rect x="195" y="214" width="1" height="2" fill="#fff"/>
<rect x="199" y="212" width="1" height="9" fill="#000"/>
<rect x="198" y="212" width="3" height="8" fill="#000"/>
<rect x="203" y="211" width="1" height="8" fill="#000"/>
<rect x="202" y="212" width="3" height="7" fill="#000"/>
<rect x="203" y="213" width="1" height="5" fill="#fff"/>
<rect x="207" y="211" width="1" height="10" fill="#000"/>
<rect x="206" y="212" width="3" height="1" fill="#000"/>
<rect x="211" y="212" width="1" height="10" fill="#000"/>
<rect x="210" y="212" width="3" height="8" fill="#000"/>
<rect x="215" y="218" width="1" height="18" fill="#000"/>
<rect x="214" y="218" width="3" height="12" fill="#000"/>
<rect x="219" y="227" width="1" height="12" fill="#000"/>
<rect x="218" y="229" width="3" height="6" fill="#000"/>
<rect x="223" y="227" width="1" height="9" fill="#000"/>
<rect x="222" y="232" width="3" height="4" fill="#000"/>
<rect x="223" y="233" width="1" height="2" fill="#fff"/>
<rect x="227" y="214" width="1" height="18" fill="#000"/>
<rect x="226" y="216" width="3" height="15" fill="#000"/>
<rect x="227" y="217" width="1" height="13" fill="#fff"/>
<rect x="231" y="209" width="1" height="22" fill="#000"/>
<rect x="230" y="217" width="3" height="14" fill="#000"/>
<rect x="235" y="227" width="1" height="9" fill="#000"/>
<rect x="234" y="229" width="3" height="4" fill="#000"/>
<rect x="239" y="226" width="1" height="8" fill="#000"/>
<rect x="238" y="228" width="3" height="3" fill="#000"/>
<rect x="239" y="229" width="1" height="1" fill="#fff"/>
<rect x="243" y="224" width="1" height="7" fill="#000"/>
<rect x="242" y="226" width="3" height="3" fill="#000"/>
<rect x="243" y="227" width="1" height="1" fill="#fff"/>
<rect x="247" y="216" width="1" height="12" fill="#000"/>
<rect x="246" y="216" width="3" height="10" fill="#000"/>
<rect x="247" y="217" width="1" height="8" fill="#fff"/>
<rect x="251" y="211" width="1" height="10" fill="#000"/>
<rect x="250" y="215" width="3" height="1" fill="#000"/>
<rect x="255" y="210" width="1" height="17" fill="#000"/>
<rect x="254" y="214" width="3" height="9" fill="#000"/>
<rect x="259" y="218" width="1" height="8" fill="#000"/>
<rect x="258" y="218" width="3" height="4" fill="#000"/>
<rect x="259" y="219" width="1" height="2" fill="#fff"/>
<rect x="263" y="215" width="1" height="10" fill="#000"/>
<rect x="262" y="216" width="3" height="6" fill="#000"/>
<rect x="267" y="220" width="1" height="4" fill="#000"/>
<rect x="266" y="221" width="3" height="1" fill="#000"/>
<rect x="271" y="213" width="1" height="10" fill="#000"/>
<rect x="270" y="216" width="3" height="6" fill="#000"/>
<rect x="271" y="217" width="1" height="4" fill="#fff"/>
<rect x="275" y="202" width="1" height="34" fill="#000"/>
<rect x="274" y="216" width="3" height="18" fill="#000"/>
<rect x="279" y="223" width="1" height="22" fill="#000"/>
<rect x="278" y="234" width="3" height="2" fill="#000"/>
<rect x="283" y="233" width="1" height="7" fill="#000"/>
<rect x="282" y="234" width="3" height="4" fill="#000"/>
<rect x="287" y="231" width="1" height="9" fill="#000"/>
<rect x="286" y="233" width="3" height="6" fill="#000"/>
<rect x="287" y="234" width="1" height="4" fill="#fff"/>
<rect x="291" y="231" width="1" height="9" fill="#000"/>
<rect x="290" y="233" width="3" height="6" fill="#000"/>
<rect x="295" y="228" width="1" height="12" fill="#000"/>
<rect x="294" y="230" width="3" height="9" fill="#000"/>
<rect x="295" y="231" width="1" height="7" fill="#fff"/>
<rect x="299" y="219" width="1" height="13" fill="#000"/>
<rect x="298" y="225" width="3" height="5" fill="#000"/>
<rect x="299" y="226" width="1" height="3" fill="#fff"/>
<rect x="303" y="222" width="1" height="12" fill="#000"/>
<rect x="302" y="225" width="3" height="4" fill="#000"/>
<rect x="307" y="227" width="1" height="8" fill="#000"/>
<rect x="306" y="229" width="3" height="1" fill="#000"/>
<rect x="311" y="219" width="1" height="13" fill="#000"/>
<rect x="310" y="222" width="3" height="8" fill="#000"/>
<rect x="311" y="223" width="1" height="6" fill="#fff"/>
<rect x="315" y="222" width="1" height="8" fill="#000"/>
<rect x="314" y="222" width="3" height="5" fill="#000"/>
<rect x="319" y="227" width="1" height="6" fill="#000"/>
<rect x="318" y="228" width="3" height="2" fill="#000"/>
<rect x="323" y="223" width="1" height="15" fill="#000"/>
<rect x="322" y="228" width="3" height="1" fill="#000"/>
<rect x="327" y="224" width="1" height="6" fill="#000"/>
<rect x="326" y="226" width="3" height="3" fill="#000"/>
<rect x="327" y="227" width="1" height="1" fill="#fff"/>
<rect x="331" y="213" width="1" height="12" fill="#000"/>
<rect x="330" y="215" width="3" height="10" fill="#000"/>
<rect x="331" y="216" width="1" height="8" fill="#fff"/>
<rect x="335" y="215" width="1" height="8" fill="#000"/>
<rect x="334" y="216" width="3" height="6" fill="#000"/>
<rect x="339" y="219" width="1" height="5" fill="#000"/>
<rect x="338" y="221" width="3" height="1" fill="#000"/>
<rect x="343" y="211" width="1" height="11" fill="#000"/>
<rect x="342" y="212" width="3" height="10" fill="#000"/>
<rect x="343" y="213" width="1" height="8" fill="#fff"/>
<rect x="347" y="207" width="1" height="11" fill="#000"/>
<rect x="346" y="212" width="3" height="2" fill="#000"/>
<rect x="351" y="209" width="1" height="10" fill="#000"/>
<rect x="350" y="209" width="3" height="5" fill="#000"/>
<rect x="351" y="210" width="1" height="3" fill="#fff"/>
<rect x="355" y="203" width="1" height="7" fill="#000"/>
<rect x="354" y="207" width="3" height="1" fill="#000"/>
<rect x="359" y="206" width="1" height="8" fill="#000"/>
<rect x="358" y="207" width="3" height="7" fill="#000"/>
<rect x="363" y="208" width="1" height="6" fill="#000"/>
<rect x="362" y="208" width="3" height="6" fill="#000"/>
<rect x="363" y="209" width="1" height="4" fill="#fff"/>
<rect x="367" y="204" width="1" height="7" fill="#000"/>
<rect x="366" y="208" width="3" height="1" fill="#000"/>
<rect x="371" y="201" width="1" height="13" fill="#000"/>
<rect x="370" y="207" width="3" height="6" fill="#000"/>
<rect x="375" y="210" width="1" height="14" fill="#000"/>
<rect x="374" y="212" width="3" height="1" fill="#000"/>
<rect x="379" y="208" width="1" height="38" fill="#000"/>
<rect x="378" y="213" width="3" height="26" fill="#000"/>
<rect x="383" y="234" width="1" height="22" fill="#000"/>
<rect x="382" y="241" width="3" height="7" fill="#000"/>
<rect x="387" y="244" width="1" height="7" fill="#000"/>
<rect x="386" y="246" width="3" height="5" fill="#000"/>
<rect x="391" y="249" width="1" height="10" fill="#000"/>
<rect x="390" y="250" width="3" height="2" fill="#000"/>
<rect x="395" y="249" width="1" height="15" fill="#000"/>
<rect x="394" y="251" width="3" height="5" fill="#000"/>
<rect x="399" y="191" width="1" height="65" fill="#000"/>
<rect x="398" y="194" width="3" height="61" fill="#000"/>
<rect x="399" y="195" width="1" height="59" fill="#fff"/>
<rect x="403" y="180" width="1" height="21" fill="#000"/>
<rect x="402" y="182" width="3" height="12" fill="#000"/>
<rect x="403" y="183" width="1" height="10" fill="#fff"/>
<rect x="407" y="174" width="1" height="34" fill="#000"/>
<rect x="406" y="181" width="3" height="24" fill="#000"/>
<rect x="411" y="201" width="1" height="9" fill="#000"/>
<rect x="410" y="203" width="3" height="3" fill="#000"/>
<rect x="411" y="204" width="1" height="1" fill="#fff"/>
<rect x="415" y="191" width="1" height="16" fill="#000"/>
<rect x="414" y="198" width="3" height="6" fill="#000"/>
<rect x="415" y="199" width="1" height="4" fill="#fff"/>
<rect x="419" y="188" width="1" height="21" fill="#000"/>
<rect x="418" y="190" width="3" height="8" fill="#000"/>
<rect x="419" y="191" width="1" height="6" fill="#fff"/>
<rect x="423" y="176" width="1" height="16" fill="#000"/>
<rect x="422" y="186" width="3" height="5" fill="#000"/>
<rect x="423" y="187" width="1" height="3" fill="#fff"/>
<rect x="427" y="184" width="1" height="8" fill="#000"/>
<rect x="426" y="186" width="3" height="4" fill="#000"/>
<rect x="431" y="169" width="1" height="27" fill="#000"/>
<rect x="430" y="174" width="3" height="14" fill="#000"/>
<rect x="431" y="175" width="1" height="12" fill="#fff"/>
<rect x="435" y="161" width="1" height="19" fill="#000"/>
<rect x="434" y="167" width="3" height="7" fill="#000"/>
<rect x="435" y="168" width="1" height="5" fill="#fff"/>
<rect x="439" y="156" width="1" height="12" fill="#000"/>
<rect x="438" y="160" width="3" height="8" fill="#000"/>
<rect x="439" y="161" width="1" height="6" fill="#fff"/>
<rect x="443" y="143" width="1" height="18" fill="#000"/>
<rect x="442" y="146" width="3" height="14" fill="#000"/>
<rect x="443" y="147" width="1" height="12" fill="#fff"/>
<rect x="447" y="137" width="1" height="31" fill="#000"/>
<rect x="446" y="146" width="3" height="1" fill="#000"/>
<rect x="451" y="137" width="1" height="19" fill="#000"/>
<rect x="450" y="146" width="3" height="3" fill="#000"/>
<rect x="455" y="127" width="1" height="28" fill="#000"/>
<rect x="454" y="139" width="3" height="11" fill="#000"/>
<rect x="459" y="140" width="1" height="21" fill="#000"/>
<rect x="458" y="150" width="3" height="3" fill="#000"/>
<rect x="463" y="145" width="1" height="13" fill="#000"/>
<rect x="462" y="149" width="3" height="4" fill="#000"/>
<rect x="463" y="150" width="1" height="2" fill="#fff"/>
<rect x="467" y="139" width="1" height="11" fill="#000"/>
<rect x="466" y="143" width="3" height="6" fill="#000"/>
<rect x="467" y="144" width="1" height="4" fill="#fff"/>
<rect x="471" y="129" width="1" height="17" fill="#000"/>
<rect x="470" y="133" width="3" height="10" fill="#000"/>
<rect x="471" y="134" width="1" height="8" fill="#fff"/>
<rect x="475" y="124" width="1" height="15" fill="#000"/>
<rect x="474" y="129" width="3" height="5" fill="#000"/>
<rect x="475" y="130" width="1" height="3" fill="#fff"/>
<rect x="479" y="99" width="1" height="33" fill="#000"/>
<rect x="478" y="110" width="3" height="19" fill="#000"/>
<rect x="479" y="111" width="1" height="17" fill="#fff"/>
<rect x="483" y="104" width="1" height="12" fill="#000"/>
<rect x="482" y="107" width="3" height="3" fill="#000"/>
<rect x="483" y="108" width="1" height="1" fill="#fff"/>
<rect x="487" y="97" width="1" height="13" fill="#000"/>
<rect x="486" y="105" width="3" height="3" fill="#000"/>
<rect x="487" y="106" width="1" height="1" fill="#fff"/>
<rect x="491" y="64" width="1" height="41" fill="#000"/>
<rect x="490" y="66" width="3" height="39" fill="#000"/>
<rect x="491" y="67" width="1" height="37" fill="#fff"/>
<rect x="495" y="62" width="1" height="26" fill="#000"/>
<rect x="494" y="66" width="3" height="11" fill="#000"/>
<rect x="499" y="65" width="1" height="28" fill="#000"/>
<rect x="498" y="75" width="3" height="5" fill="#000"/>
<rect x="503" y="69" width="1" height="28" fill="#000"/>
<rect x="502" y="81" width="3" height="11" fill="#000"/>
<rect x="507" y="76" width="1" height="16" fill="#000"/>
<rect x="506" y="79" width="3" height="13" fill="#000"/>
<rect x="507" y="80" width="1" height="11" fill="#fff"/>
<rect x="511" y="74" width="1" height="15" fill="#000"/>
<rect x="510" y="79" width="3" height="10" fill="#000"/>
<rect x="515" y="87" width="1" height="13" fill="#000"/>
<rect x="514" y="89" width="3" height="1" fill="#000"/>
<rect x="519" y="76" width="1" height="19" fill="#000"/>
<rect x="518" y="78" width="3" height="12" fill="#000"/>
<rect x="519" y="79" width="1" height="10" fill="#fff"/>
<rect x="523" y="64" width="1" height="17" fill="#000"/>
<rect x="522" y="78" width="3" height="3" fill="#000"/>
<rect x="527" y="65" width="1" height="19" fill="#000"/>
<rect x="526" y="73" width="3" height="1" fill="#000"/>
<rect x="531" y="67" width="1" height="9" fill="#000"/>
<rect x="530" y="69" width="3" height="5" fill="#000"/>
<rect x="531" y="70" width="1" height="3" fill="#fff"/>
<rect x="535" y="66" width="1" height="15" fill="#000"/>
<rect x="534" y="69" width="3" height="7" fill="#000"/>
<rect x="539" y="73" width="1" height="19" fill="#000"/>
<rect x="538" y="74" width="3" height="12" fill="#000"/>
<rect x="543" y="70" width="1" height="21" fill="#000"/>
<rect x="542" y="84" width="3" height="3" fill="#000"/>
<rect x="543" y="85" width="1" height="1" fill="#fff"/>
<rect x="547" y="82" width="1" height="7" fill="#000"/>
<rect x="546" y="83" width="3" height="6" fill="#000"/>
<rect x="551" y="84" width="1" height="10" fill="#000"/>
<rect x="550" y="85" width="3" height="2" fill="#000"/>
<rect x="555" y="86" width="1" height="4" fill="#000"/>
<rect x="554" y="86" width="3" height="2" fill="#000"/>
<rect x="559" y="71" width="1" height="33" fill="#000"/>
<rect x="558" y="73" width="3" height="14" fill="#000"/>
<rect x="559" y="74" width="1" height="12" fill="#fff"/>
<rect x="563" y="65" width="1" height="16" fill="#000"/>
<rect x="562" y="73" width="3" height="2" fill="#000"/>
<rect x="567" y="69" width="1" height="10" fill="#000"/>
<rect x="566" y="69" width="3" height="5" fill="#000"/>
<rect x="567" y="70" width="1" height="3" fill="#fff"/>
<rect x="571" y="45" width="1" height="26" fill="#000"/>
<rect x="570" y="61" width="3" height="9" fill="#000"/>
<rect x="571" y="62" width="1" height="7" fill="#fff"/>
<rect x="575" y="49" width="1" height="15" fill="#000"/>
<rect x="574" y="49" width="3" height="13" fill="#000"/>
<rect x="575" y="50" width="1" height="11" fill="#fff"/>
<rect x="579" y="44" width="1" height="11" fill="#000"/>
<rect x="578" y="46" width="3" height="3" fill="#000"/>
<rect x="579" y="47" width="1" height="1" fill="#fff"/>
<rect x="583" y="20" width="1" height="29" fill="#000"/>
<rect x="582" y="22" width="3" height="24" fill="#000"/>
<rect x="583" y="23" width="1" height="22" fill="#fff"/>
<rect x="587" y="17" width="1" height="102" fill="#000"/>
<rect x="586" y="22" width="3" height="85" fill="#000"/>
<rect x="591" y="68" width="1" height="40" fill="#000"/>
<rect x="590" y="79" width="3" height="29" fill="#000"/>
<rect x="591" y="80" width="1" height="27" fill="#fff"/>
<rect x="595" y="72" width="1" height="17" fill="#000"/>
<rect x="594" y="78" width="3" height="1" fill="#000"/>
<rect x="599" y="75" width="1" height="18" fill="#000"/>
<rect x="598" y="78" width="3" height="11" fill="#000"/>
<rect x="603" y="80" width="1" height="10" fill="#000"/>
<rect x="602" y="80" width="3" height="10" fill="#000"/>
<rect x="603" y="81" width="1" height="8" fill="#fff"/>
<rect x="607" y="76" width="1" height="11" fill="#000"/>
<rect x="606" y="79" width="3" height="1" fill="#000"/>
<rect x="611" y="48" width="1" height="32" fill="#000"/>
<rect x="610" y="58" width="3" height="22" fill="#000"/>
<rect x="611" y="59" width="1" height="20" fill="#fff"/>
<rect x="615" y="37" width="1" height="34" fill="#000"/>
<rect x="614" y="52" width="3" height="5" fill="#000"/>
<rect x="615" y="53" width="1" height="3" fill="#fff"/>
<rect x="619" y="43" width="1" height="21" fill="#000"/>
<rect x="618" y="51" width="3" height="2" fill="#000"/>
<rect x="623" y="37" width="1" height="18" fill="#000"/>
<rect x="622" y="45" width="3" height="7" fill="#000"/>
<rect x="623" y="46" width="1" height="5" fill="#fff"/>
<rect x="627" y="41" width="1" height="9" fill="#000"/>
<rect x="626" y="45" width="3" height="3" fill="#000"/>
<rect x="631" y="46" width="1" height="22" fill="#000"/>
<rect x="630" y="48" width="3" height="10" fill="#000"/>
</g>
</g>
<g clip-path="url(#c2)">
<path d="M158 348h28v1h-28zM235 348h11v1h-11zM459 348h4v1h-4zM3 357h18v1h-18zM61 357h31v1h-31zM342 357h9v1h-9zM362 357h9v1h-9zM503 338h5v1h-5zM126 353h9v1h-9zM313 353h5v1h-5zM442 353h3v1h-3zM195 346h31v1h-31zM468 346h5v1h-5zM186 347h9v1h-9zM226 347h9v1h-9zM463 347h5v1h-5zM21 356h40v1h-40zM92 356h17v1h-17zM332 356h10v1h-10zM371 356h61v1h-61zM148 350h5v1h-5zM255 350h16v1h-16zM290 350h13v1h-13zM452 350h4v1h-4zM530 332h5v1h-5zM109 355h7v1h-7zM325 355h7v1h-7zM432 355h5v1h-5zM577 325h9v1h-9zM598 325h12v1h-12zM549 328h8v1h-8zM622 328h3v1h-3zM351 358h11v1h-11zM135 352h8v1h-8zM308 352h5v1h-5zM445 352h4v1h-4zM518 335h4v1h-4zM116 354h10v1h-10zM318 354h7v1h-7zM437 354h5v1h-5zM153 349h5v1h-5zM246 349h9v1h-9zM271 349h19v1h-19zM456 349h3v1h-3zM499 339h4v1h-4zM566 326h11v1h-11zM610 326h8v1h-8zM586 324h12v1h-12zM478 344h5v1h-5zM544 329h5v1h-5zM625 329h4v1h-4zM522 334h5v1h-5zM486 342h5v1h-5zM513 336h5v1h-5zM143 351h5v1h-5zM303 351h5v1h-5zM449 351h3v1h-3zM494 340h5v1h-5zM557 327h9v1h-9zM618 327h4v1h-4zM473 345h5v1h-5zM538 330h6v1h-6zM629 330h2v1h-2zM527 333h3v1h-3zM508 337h5v1h-5zM535 331h3v1h-3zM483 343h3v1h-3zM491 341h3v1h-3z" fill="#32cd32" shape-rendering="crispEdges"/>
<path d="M75 351h3v1h-3zM113 351h2v1h-2zM347 351h2v1h-2zM122 357h2v1h-2zM137 357h2v1h-2zM257 357h5v1h-5zM282 357h2v1h-2zM328 357h3v1h-3zM487 316h3v1h-3zM515 316h3v1h-3zM495 312h15v1h-15zM601 339h2v1h-2zM298 362h7v1h-7zM310 362h5v1h-5zM53 345h2v1h-2zM360 345h4v1h-4zM142 354h2v1h-2zM216 354h2v1h-2zM270 354h5v1h-5zM338 354h4v1h-4zM59 348h2v1h-2zM88 348h19v1h-19zM353 348h3v1h-3zM625 348h3v1h-3zM68 353h2v1h-2zM116 353h2v1h-2zM342 353h2v1h-2zM194 338h2v1h-2zM430 338h9v1h-9zM129 360h3v1h-3zM233 360h9v1h-9zM248 360h3v1h-3zM289 360h4v1h-4zM318 360h4v1h-4zM414 360h2v1h-2zM491 314h3v1h-3zM511 314h3v1h-3zM166 334h5v1h-5zM178 334h7v1h-7zM443 334h2v1h-2zM559 334h4v1h-4zM573 334h2v1h-2zM593 334h2v1h-2zM399 364h12v1h-12zM164 335h2v1h-2zM185 335h5v1h-5zM563 335h3v1h-3zM570 335h3v1h-3zM595 335h2v1h-2zM190 336h3v1h-3zM440 336h2v1h-2zM566 336h4v1h-4zM139 356h2v1h-2zM219 356h3v1h-3zM262 356h5v1h-5zM278 356h4v1h-4zM331 356h4v1h-4zM126 359h3v1h-3zM132 359h2v1h-2zM228 359h5v1h-5zM251 359h2v1h-2zM287 359h2v1h-2zM322 359h3v1h-3zM83 349h5v1h-5zM107 349h3v1h-3zM55 346h2v1h-2zM205 346h2v1h-2zM357 346h3v1h-3zM611 346h2v1h-2zM629 346h2v1h-2zM124 358h2v1h-2zM134 358h3v1h-3zM223 358h5v1h-5zM253 358h4v1h-4zM284 358h3v1h-3zM325 358h3v1h-3zM446 332h2v1h-2zM555 332h2v1h-2zM577 332h2v1h-2zM589 332h3v1h-3zM305 363h5v1h-5zM454 329h2v1h-2zM548 329h2v1h-2zM582 329h2v1h-2zM522 319h3v1h-3zM31 344h2v1h-2zM50 344h3v1h-3zM202 344h2v1h-2zM364 344h8v1h-8zM608 344h2v1h-2zM65 352h3v1h-3zM70 352h5v1h-5zM213 352h2v1h-2zM344 352h3v1h-3zM618 352h2v1h-2zM451 330h3v1h-3zM550 330h3v1h-3zM580 330h2v1h-2zM586 330h2v1h-2zM473 322h3v1h-3zM531 322h3v1h-3zM242 361h6v1h-6zM293 361h5v1h-5zM315 361h3v1h-3zM456 328h3v1h-3zM546 328h2v1h-2zM24 350h2v1h-2zM62 350h2v1h-2zM78 350h5v1h-5zM110 350h3v1h-3zM147 350h2v1h-2zM210 350h2v1h-2zM349 350h3v1h-3zM621 350h3v1h-3zM171 333h7v1h-7zM557 333h2v1h-2zM575 333h2v1h-2zM48 343h2v1h-2zM372 343h4v1h-4zM479 320h3v1h-3zM525 320h3v1h-3zM468 324h3v1h-3zM536 324h3v1h-3zM448 331h3v1h-3zM553 331h2v1h-2zM38 340h3v1h-3zM197 340h2v1h-2zM476 321h3v1h-3zM528 321h3v1h-3zM8 366h3v1h-3zM395 366h2v1h-2zM459 327h3v1h-3zM543 327h3v1h-3zM483 318h3v1h-3zM519 318h3v1h-3zM3 368h2v1h-2zM465 325h3v1h-3zM539 325h2v1h-2zM36 341h2v1h-2zM41 341h3v1h-3zM604 341h2v1h-2zM462 326h3v1h-3zM541 326h2v1h-2zM34 342h2v1h-2zM44 342h4v1h-4zM119 355h2v1h-2zM267 355h3v1h-3zM275 355h3v1h-3zM335 355h3v1h-3zM57 347h2v1h-2zM397 365h2v1h-2zM471 323h2v1h-2zM534 323h2v1h-2zM161 337h2v1h-2zM598 337h2v1h-2zM5 367h3v1h-3zM30 345h1v1h-1zM514 315h1v1h-1zM620 351h1v1h-1zM154 344h1v1h-1zM115 352h1v1h-1zM13 362h1v1h-1zM152 346h1v1h-1zM153 345h1v1h-1zM218 355h1v1h-1zM394 364h1v2h-1zM12 363h1v2h-1zM151 347h1v1h-1zM429 340h1v1h-1zM430 339h1v1h-1zM510 313h1v1h-1zM421 354h1v1h-1zM423 351h1v1h-1zM18 356h1v2h-1zM428 341h1v3h-1zM518 317h1v1h-1zM419 356h1v1h-1zM610 345h1v1h-1zM61 349h1v1h-1zM494 313h1v1h-1zM439 337h1v1h-1zM222 357h1v1h-1zM427 344h1v1h-1zM390 359h1v2h-1zM426 345h1v3h-1zM155 343h1v1h-1zM392 362h1v1h-1zM386 354h1v2h-1zM204 345h1v1h-1zM584 328h1v1h-1zM121 356h1v1h-1zM482 319h1v1h-1zM387 356h1v1h-1zM585 329h1v1h-1zM381 349h1v1h-1zM442 335h1v1h-1zM22 352h1v1h-1zM23 351h1v1h-1zM160 338h1v1h-1zM377 345h1v1h-1zM600 338h1v1h-1zM393 363h1v1h-1zM212 351h1v1h-1zM141 355h1v1h-1zM422 352h1v2h-1zM424 349h1v2h-1zM607 343h1v1h-1zM193 337h1v1h-1zM145 352h1v1h-1zM146 351h1v1h-1zM388 357h1v1h-1zM420 355h1v1h-1zM199 341h1v1h-1zM628 347h1v1h-1zM144 353h1v1h-1zM378 346h1v1h-1zM149 349h1v1h-1zM413 361h1v1h-1zM379 347h1v1h-1zM490 315h1v1h-1zM411 363h1v1h-1zM412 362h1v1h-1zM615 349h1v1h-1zM118 354h1v1h-1zM416 359h1v1h-1zM616 350h1v1h-1zM579 331h1v1h-1zM385 353h1v1h-1zM356 347h1v1h-1zM11 365h1v1h-1zM29 346h1v1h-1zM376 344h1v1h-1zM603 340h1v1h-1zM27 348h1v1h-1zM215 353h1v1h-1zM28 347h1v1h-1zM33 343h1v1h-1zM382 350h1v1h-1zM445 333h1v1h-1zM606 342h1v1h-1zM26 349h1v1h-1zM150 348h1v1h-1zM613 347h1v1h-1zM21 353h1v1h-1zM158 340h1v1h-1zM64 351h1v1h-1zM592 333h1v1h-1zM624 349h1v1h-1zM17 358h1v1h-1zM614 348h1v1h-1zM389 358h1v1h-1zM156 342h1v1h-1zM383 351h1v1h-1zM200 342h1v1h-1zM19 355h1v1h-1zM418 357h1v1h-1zM15 360h1v1h-1zM16 359h1v1h-1zM207 347h1v1h-1zM384 352h1v1h-1zM486 317h1v1h-1zM417 358h1v1h-1zM380 348h1v1h-1zM14 361h1v1h-1zM588 331h1v1h-1zM201 343h1v1h-1zM208 348h1v1h-1zM617 351h1v1h-1zM597 336h1v1h-1zM209 349h1v1h-1zM352 349h1v1h-1zM159 339h1v1h-1zM425 348h1v1h-1zM20 354h1v1h-1zM157 341h1v1h-1zM196 339h1v1h-1zM163 336h1v1h-1zM391 361h1v1h-1z" fill="#00ffff" shape-rendering="crispEdges"/>
<polyline points="3.0,367.6 7.0,363.0 11.0,346.0 16.0,337.0 20.0,332.0 25.0,329.6 31.0,329.0 35.0,341.0 39.0,358.0 43.0,360.0 47.6,353.0 51.0,357.6 56.0,357.6 59.0,355.6 64.0,346.4 68.0,345.0 71.0,349.6 75.0,349.0 80.0,345.0 86.0,350.4 91.0,349.0 97.0,349.6 100.0,347.0 104.0,347.0 107.0,357.0 112.0,363.0 116.0,364.4 120.0,364.4 127.0,373.6 131.0,352.0 135.0,334.0 140.0,333.0 143.0,339.0 148.0,339.0 155.0,347.0 159.0,334.0 163.6,321.0 168.0,325.0 175.0,330.4 180.0,331.0 183.0,353.6 191.0,353.6 194.0,351.0 199.0,354.0 206.0,350.0 210.0,354.0 215.0,363.0 220.0,369.0 224.0,362.0 227.0,354.4 231.0,362.4 236.0,363.6 243.0,359.6 248.0,350.4 252.0,350.4 256.0,356.4 260.0,353.0 264.0,356.4 268.0,355.0 272.0,352.0 276.0,367.0 280.0,368.0 283.0,369.6 287.0,365.6 291.0,367.6 295.0,361.0 300.0,356.4 305.0,360.0 308.0,359.6 311.0,353.0 315.0,359.0 320.0,359.6 327.0,355.6 331.0,345.0 335.0,351.6 339.0,351.6 344.0,343.0 347.0,343.0 352.0,339.0 355.6,339.0 360.0,345.6 364.0,341.0 367.6,341.0 371.0,348.4 375.6,350.0 378.0,372.0 380.0,378.0 384.0,382.4 388.0,384.0 392.0,385.0 395.6,387.0 398.4,344.0 399.6,336.0 403.0,331.0 407.0,347.0 411.0,346.0 420.0,339.0 423.0,338.0 427.6,341.0 431.6,333.0 439.0,328.0 444.0,322.0 448.0,322.0 455.0,323.6 461.0,328.0 466.0,324.0 472.0,319.0 475.6,317.0 479.6,310.0 487.0,309.0 491.0,300.0 495.0,309.0 500.0,313.6 503.0,323.6 507.6,321.0 511.6,329.0 515.0,329.0 519.6,324.4 524.0,325.6 529.0,322.0 532.4,322.0 536.0,330.0 539.0,338.0 543.0,337.0 548.0,342.0 556.0,340.0 559.0,333.0 563.0,334.0 568.0,330.0 574.0,322.0 579.0,319.0 583.0,312.0 584.4,312.0 585.6,338.0 587.0,366.0 590.0,355.0 593.0,353.6 599.0,358.0 603.0,355.0 608.0,352.0 612.0,344.4 617.0,343.0 621.0,341.0 625.0,341.0 629.0,344.4 631.0,347.0" fill="none" stroke="#dc143c" stroke-width="2" stroke-linejoin="round" shape-rendering="crispEdges"/>
</g>
<circle cx="617.2" cy="342.7" r="29.1" fill="none" stroke="#000" stroke-width="3"/>
<g clip-path="url(#c3)">
<path d="M93 429h29v1h-29zM364 429h5v1h-5zM375 429h3v1h-3zM429 429h5v1h-5zM613 429h5v1h-5zM3 434h2v1h-2zM66 434h5v1h-5zM164 434h4v1h-4zM206 434h7v1h-7zM249 434h7v1h-7zM278 434h4v1h-4zM342 434h5v1h-5zM392 434h3v1h-3zM410 434h3v1h-3zM74 432h5v1h-5zM129 432h7v1h-7zM148 432h11v1h-11zM172 432h3v1h-3zM198 432h5v1h-5zM261 432h14v1h-14zM350 432h5v1h-5zM386 432h4v1h-4zM416 432h3v1h-3zM519 418h5v1h-5zM546 418h4v1h-4zM82 430h11v1h-11zM122 430h4v1h-4zM179 430h16v1h-16zM358 430h6v1h-6zM378 430h5v1h-5zM423 430h6v1h-6zM618 430h13v1h-13zM291 438h5v1h-5zM325 438h6v1h-6zM8 436h5v1h-5zM19 436h10v1h-10zM220 436h24v1h-24zM285 436h3v1h-3zM334 436h5v1h-5zM397 436h7v1h-7zM510 421h3v1h-3zM556 421h3v1h-3zM5 435h3v1h-3zM29 435h37v1h-37zM213 435h7v1h-7zM244 435h5v1h-5zM282 435h3v1h-3zM339 435h3v1h-3zM395 435h2v1h-2zM404 435h6v1h-6zM296 439h5v1h-5zM320 439h5v1h-5zM490 422h20v1h-20zM559 422h6v1h-6zM462 424h17v1h-17zM592 424h4v1h-4zM71 433h3v1h-3zM159 433h5v1h-5zM168 433h4v1h-4zM203 433h3v1h-3zM256 433h5v1h-5zM275 433h3v1h-3zM347 433h3v1h-3zM390 433h2v1h-2zM413 433h3v1h-3zM301 440h19v1h-19zM479 423h11v1h-11zM565 423h27v1h-27zM79 431h3v1h-3zM126 431h3v1h-3zM136 431h12v1h-12zM175 431h4v1h-4zM195 431h3v1h-3zM355 431h3v1h-3zM383 431h3v1h-3zM419 431h4v1h-4zM444 426h6v1h-6zM599 426h4v1h-4zM516 419h3v1h-3zM550 419h3v1h-3zM369 428h6v1h-6zM434 428h5v1h-5zM608 428h5v1h-5zM529 416h14v1h-14zM450 425h12v1h-12zM596 425h3v1h-3zM13 437h6v1h-6zM288 437h3v1h-3zM331 437h3v1h-3zM439 427h5v1h-5zM603 427h5v1h-5zM524 417h5v1h-5zM543 417h3v1h-3zM513 420h3v1h-3zM553 420h3v1h-3z" fill="#32cd32" shape-rendering="crispEdges"/>
<path d="M57 422h3v1h-3zM174 422h2v1h-2zM190 422h2v1h-2zM355 422h22v1h-22zM533 422h2v1h-2zM220 444h2v1h-2zM247 444h3v1h-3zM409 444h3v1h-3zM149 437h4v1h-4zM307 437h11v1h-11zM426 437h2v1h-2zM555 437h3v1h-3zM72 429h2v1h-2zM588 429h39v1h-39zM48 419h3v1h-3zM178 419h2v1h-2zM184 419h3v1h-3zM522 419h4v1h-4zM54 421h3v1h-3zM529 421h4v1h-4zM407 443h2v1h-2zM412 443h3v1h-3zM122 436h2v1h-2zM153 436h5v1h-5zM209 436h2v1h-2zM263 436h3v1h-3zM297 436h10v1h-10zM318 436h8v1h-8zM392 436h2v1h-2zM552 436h3v1h-3zM567 436h3v1h-3zM3 442h6v1h-6zM133 442h5v1h-5zM217 442h2v1h-2zM251 442h3v1h-3zM404 442h3v1h-3zM415 442h4v1h-4zM458 410h30v1h-30zM503 410h3v1h-3zM450 412h3v1h-3zM507 412h3v1h-3zM78 432h3v1h-3zM99 432h3v1h-3zM115 432h3v1h-3zM271 432h12v1h-12zM333 432h2v1h-2zM546 432h2v1h-2zM575 432h3v1h-3zM222 445h2v1h-2zM245 445h2v1h-2zM51 420h3v1h-3zM187 420h2v1h-2zM526 420h3v1h-3zM70 428h2v1h-2zM198 428h2v1h-2zM340 428h2v1h-2zM541 428h2v1h-2zM583 428h5v1h-5zM74 430h2v1h-2zM103 430h11v1h-11zM165 430h2v1h-2zM201 430h2v1h-2zM337 430h2v1h-2zM579 430h3v1h-3zM627 430h4v1h-4zM81 433h2v1h-2zM97 433h2v1h-2zM283 433h3v1h-3zM331 433h2v1h-2zM83 434h5v1h-5zM92 434h5v1h-5zM119 434h2v1h-2zM206 434h2v1h-2zM267 434h3v1h-3zM286 434h6v1h-6zM328 434h3v1h-3zM549 434h2v1h-2zM571 434h3v1h-3zM60 423h3v1h-3zM352 423h3v1h-3zM229 448h11v1h-11zM42 417h3v1h-3zM10 440h2v1h-2zM128 440h2v1h-2zM142 440h2v1h-2zM214 440h2v1h-2zM255 440h3v1h-3zM399 440h3v1h-3zM421 440h2v1h-2zM130 441h3v1h-3zM138 441h4v1h-4zM402 441h2v1h-2zM419 441h2v1h-2zM65 425h2v1h-2zM346 425h3v1h-3zM511 414h3v1h-3zM63 424h2v1h-2zM193 424h2v1h-2zM349 424h3v1h-3zM378 424h2v1h-2zM536 424h2v1h-2zM493 408h9v1h-9zM36 416h6v1h-6zM515 416h3v1h-3zM67 426h2v1h-2zM344 426h2v1h-2zM381 426h2v1h-2zM88 435h4v1h-4zM158 435h3v1h-3zM292 435h5v1h-5zM326 435h2v1h-2zM224 446h3v1h-3zM242 446h3v1h-3zM76 431h2v1h-2zM335 431h2v1h-2zM13 438h2v1h-2zM125 438h2v1h-2zM147 438h2v1h-2zM259 438h3v1h-3zM395 438h3v1h-3zM424 438h2v1h-2zM558 438h8v1h-8zM144 439h3v1h-3zM453 411h5v1h-5zM342 427h2v1h-2zM488 409h5v1h-5zM45 418h3v1h-3zM180 418h4v1h-4zM519 418h3v1h-3zM445 415h2v1h-2zM227 447h2v1h-2zM240 447h2v1h-2zM448 413h2v1h-2zM506 411h1v1h-1zM35 417h1v1h-1zM196 426h1v1h-1zM118 433h1v1h-1zM162 433h1v1h-1zM167 429h1v1h-1zM566 437h1v1h-1zM394 437h1v1h-1zM540 427h1v1h-1zM204 432h1v1h-1zM440 422h1v1h-1zM438 425h1v1h-1zM24 428h1v1h-1zM262 437h1v1h-1zM25 427h1v1h-1zM502 409h1v1h-1zM172 424h1v1h-1zM211 437h1v1h-1zM434 430h1v1h-1zM114 431h1v1h-1zM22 430h1v1h-1zM23 429h1v1h-1zM548 433h1v1h-1zM377 423h1v1h-1zM432 432h1v1h-1zM212 438h1v1h-1zM518 417h1v1h-1zM433 431h1v1h-1zM578 431h1v1h-1zM205 433h1v1h-1zM443 417h1v2h-1zM219 443h1v1h-1zM431 433h1v1h-1zM538 425h1v1h-1zM447 414h1v1h-1zM124 437h1v1h-1zM213 439h1v1h-1zM385 429h1v1h-1zM514 415h1v1h-1zM439 423h1v2h-1zM441 420h1v2h-1zM539 426h1v1h-1zM386 430h1v1h-1zM33 419h1v1h-1zM173 423h1v1h-1zM437 426h1v2h-1zM31 421h1v1h-1zM177 420h1v1h-1zM258 439h1v1h-1zM510 413h1v1h-1zM30 422h1v1h-1zM164 431h1v1h-1zM383 427h1v1h-1zM388 432h1v1h-1zM192 423h1v1h-1zM574 433h1v1h-1zM21 431h1v1h-1zM384 428h1v1h-1zM102 431h1v1h-1zM270 433h1v1h-1zM127 439h1v1h-1zM19 433h1v1h-1zM570 435h1v1h-1zM9 441h1v1h-1zM200 429h1v1h-1zM429 435h1v1h-1zM430 434h1v1h-1zM18 434h1v1h-1zM390 434h1v1h-1zM34 418h1v1h-1zM428 436h1v1h-1zM435 429h1v1h-1zM32 420h1v1h-1zM391 435h1v1h-1zM387 431h1v1h-1zM544 430h1v1h-1zM423 439h1v1h-1zM442 419h1v1h-1zM208 435h1v1h-1zM171 425h1v1h-1zM254 441h1v1h-1zM545 431h1v1h-1zM189 421h1v1h-1zM29 423h1v1h-1zM169 427h1v1h-1zM170 426h1v1h-1zM339 429h1v1h-1zM250 443h1v1h-1zM20 432h1v1h-1zM216 441h1v1h-1zM27 425h1v1h-1zM28 424h1v1h-1zM168 428h1v1h-1zM389 433h1v1h-1zM535 423h1v1h-1zM163 432h1v1h-1zM197 427h1v1h-1zM121 435h1v1h-1zM26 426h1v1h-1zM266 435h1v1h-1zM203 431h1v1h-1zM161 434h1v1h-1zM436 428h1v1h-1zM69 427h1v1h-1zM543 429h1v1h-1zM12 439h1v1h-1zM17 435h1v1h-1zM444 416h1v1h-1zM15 437h1v1h-1zM16 436h1v1h-1zM582 429h1v1h-1zM380 425h1v1h-1zM195 425h1v1h-1zM176 421h1v1h-1zM551 435h1v1h-1zM398 439h1v1h-1z" fill="#40d0c8" shape-rendering="crispEdges"/>
<polyline points="3.0,432.4 7.0,431.6 12.0,412.0 17.0,398.0 22.0,397.0 33.0,397.6 36.0,410.0 40.0,432.0 43.0,447.6 48.0,449.6 53.0,449.6 59.0,446.4 63.0,439.0 67.0,429.0 71.0,425.0 75.0,422.4 80.0,422.4 83.0,426.0 88.0,429.0 93.0,432.4 96.0,433.0 100.0,430.0 105.0,430.4 109.0,438.0 113.0,450.0 115.6,459.0 120.0,460.4 127.0,465.6 131.0,448.0 136.0,422.0 140.0,410.5 144.0,411.0 149.0,415.0 155.6,425.6 160.0,416.0 163.0,406.4 167.0,406.4 171.0,415.0 175.0,423.0 179.0,423.6 183.0,440.0 188.0,447.0 192.0,451.6 196.0,452.0 199.0,457.0 204.0,447.6 210.0,445.0 213.0,450.0 216.0,456.4 220.0,457.0 224.0,454.4 227.6,440.4 232.0,439.0 236.0,438.4 240.0,441.6 243.6,439.0 248.0,426.0 251.6,418.0 256.0,420.0 259.6,423.6 263.0,435.0 267.0,433.0 271.0,429.0 276.0,440.0 280.0,446.0 283.6,457.0 288.0,452.0 291.0,449.6 295.0,441.0 299.0,431.0 303.0,429.0 307.0,433.0 311.0,424.4 316.0,426.4 320.0,429.0 323.6,434.0 328.0,427.0 331.6,420.0 337.0,423.0 341.0,422.4 347.0,421.0 351.6,412.0 355.0,411.0 359.0,418.0 364.0,421.6 368.0,427.6 372.0,429.0 375.6,436.0 377.6,448.0 379.0,459.0 384.0,468.0 388.0,474.4 392.0,475.0 395.0,474.0 397.0,459.0 399.0,442.0 402.4,426.0 407.0,419.6 411.6,423.0 416.0,415.6 420.0,409.6 423.0,406.0 427.6,407.6 431.0,403.0 433.0,409.0 435.6,418.0 439.0,414.0 443.6,403.0 449.0,403.0 455.0,408.0 460.0,419.0 468.0,419.6 471.6,413.0 477.0,408.0 484.0,404.0 487.0,403.6 491.6,399.6 496.0,406.0 500.0,414.0 503.0,427.0 507.0,429.0 511.0,436.0 516.0,440.0 523.0,436.0 527.0,433.0 531.0,427.0 535.0,427.6 540.0,438.0 544.0,446.0 547.6,449.0 551.0,447.0 556.0,447.6 560.0,435.0 564.0,430.0 570.0,419.0 576.0,408.0 579.0,406.0 583.6,399.0 586.0,416.0 587.6,431.0 591.0,436.0 595.0,447.6 600.0,447.6 605.0,446.0 609.0,442.0 614.0,434.0 617.0,431.0 620.0,430.0 622.4,414.0 624.0,408.0 628.0,416.0 631.0,423.0" fill="none" stroke="#ff00ff" stroke-width="2" stroke-linejoin="round" shape-rendering="crispEdges"/>
</g>
<circle cx="624.0" cy="424.9" r="27.0" fill="none" stroke="#000" stroke-width="3"/>
<g shape-rendering="crispEdges" fill="#000">
<rect x="2" y="2" width="656" height="1"/>
<rect x="2" y="2" width="1" height="478"/>
<rect x="657" y="2" width="1" height="478"/>
<rect x="2" y="290" width="656" height="1"/>
<rect x="2" y="292" width="656" height="1"/>
<rect x="2" y="388" width="656" height="1"/>
<rect x="2" y="390" width="656" height="1"/>
<rect x="2" y="479" width="656" height="1"/>
<rect x="2" y="291" width="656" height="1" fill="#fff"/>
<rect x="2" y="389" width="656" height="1" fill="#fff"/>
<rect x="658" y="23" width="2" height="1"/>
<rect x="658" y="89" width="2" height="1"/>
<rect x="658" y="122" width="2" height="1"/>
<rect x="658" y="155" width="2" height="1"/>
<rect x="658" y="188" width="2" height="1"/>
<rect x="658" y="221" width="2" height="1"/>
<rect x="658" y="254" width="2" height="1"/>
<rect x="658" y="287" width="2" height="1"/>
<rect x="658" y="461" width="2" height="1"/>
<rect x="658" y="294" width="1" height="1"/>
<rect x="658" y="387" width="1" height="1"/>
<rect x="658" y="392" width="1" height="1"/>
<rect x="3" y="480" width="1" height="3"/>
<rect x="67" y="480" width="1" height="3"/>
<rect x="131" y="480" width="1" height="3"/>
<rect x="195" y="480" width="1" height="3"/>
<rect x="259" y="480" width="1" height="3"/>
<rect x="323" y="480" width="1" height="3"/>
<rect x="387" y="480" width="1" height="3"/>
<rect x="451" y="480" width="1" height="3"/>
<rect x="515" y="480" width="1" height="3"/>
<rect x="579" y="480" width="1" height="3"/>
<rect x="659" y="52" width="41" height="11"/>
</g>
<polygon points="6,9 13,9 9.5,13" fill="#000"/>
</svg>
<div class="t " style="left:17.5px;top:4.699999999999999px;color:#000;transform:scale(1.0215,1.05)">XAUUSD,H4</div><div class="t " style="left:78.4px;top:4.699999999999999px;color:#000;transform:scale(0.9871,1.05)">1518.16 1519.33 1507.86 1513.17</div><div class="t " style="left:7.3px;top:295.7px;color:#000;transform:scale(1.0108,1.05)">RSI(14)</div><div class="t " style="left:42.5px;top:295.7px;color:#000;transform:scale(0.9785,1.05)">55.6596</div><div class="t " style="left:81.0px;top:295.7px;color:#000;transform:scale(1.0215,1.05)">-&gt;MA(9)</div><div class="t " style="left:117.5px;top:295.7px;color:#000;transform:scale(0.9785,1.05)">55.7532</div><div class="t " style="left:158.5px;top:295.7px;color:#000;transform:scale(1.0323,1.05)">-&gt;MA(36)</div><div class="t " style="left:202.5px;top:295.7px;color:#000;transform:scale(0.9785,1.05)">66.5085</div><div class="t " style="left:7.3px;top:393.7px;color:#000;transform:scale(1.0086,1.05)">CFG_MO(14,3,9,3,13,33)</div><div class="t " style="left:117.1px;top:393.7px;color:#000;transform:scale(0.9871,1.05)">69.9488 56.0677 54.6725</div><div class="t " style="left:663.1px;top:17.6px;color:#000;transform:scale(1.0000,1.05)">1531.70</div><div class="t " style="left:663.1px;top:83.6px;color:#000;transform:scale(1.0000,1.05)">1495.70</div><div class="t " style="left:663.1px;top:116.6px;color:#000;transform:scale(1.0000,1.05)">1477.70</div><div class="t " style="left:663.1px;top:149.6px;color:#000;transform:scale(1.0000,1.05)">1459.70</div><div class="t " style="left:663.1px;top:182.6px;color:#000;transform:scale(1.0000,1.05)">1441.70</div><div class="t " style="left:663.1px;top:215.6px;color:#000;transform:scale(1.0000,1.05)">1423.70</div><div class="t " style="left:663.1px;top:248.6px;color:#000;transform:scale(1.0000,1.05)">1405.70</div><div class="t " style="left:663.1px;top:281.90000000000003px;color:#000;transform:scale(1.0000,1.05)">1387.70</div><div class="t " style="left:663.1px;top:51.7px;color:#fff;transform:scale(1.0000,1.05)">1513.17</div><div class="t " style="left:660.75px;top:293.8px;color:#000;transform:scale(1.0000,1.05)">90</div><div class="t " style="left:660.75px;top:375.7px;color:#000;transform:scale(1.0000,1.05)">30</div><div class="t " style="left:661.8px;top:391.5px;color:#000;transform:scale(0.9763,1.05)">128.5497</div><div class="t " style="left:661.1px;top:455.6px;color:#000;transform:scale(0.9785,1.05)">0.00</div><div class="t " style="left:661.0px;top:467.1px;color:#000;transform:scale(0.9763,1.05)">-32.8515</div><div class="t " style="left:2.1px;top:482.45px;color:#000;transform:scale(0.9892,1.05)">10 Jul 2019</div><div class="t " style="left:66.1px;top:482.45px;color:#000;transform:scale(0.9892,1.05)">12 Jul 21:00</div><div class="t " style="left:130.1px;top:482.45px;color:#000;transform:scale(0.9892,1.05)">17 Jul 13:00</div><div class="t " style="left:194.1px;top:482.45px;color:#000;transform:scale(0.9892,1.05)">22 Jul 05:00</div><div class="t " style="left:258.1px;top:482.45px;color:#000;transform:scale(0.9892,1.05)">24 Jul 21:00</div><div class="t " style="left:322.1px;top:482.45px;color:#000;transform:scale(0.9892,1.05)">29 Jul 13:00</div><div class="t " style="left:386.1px;top:482.45px;color:#000;transform:scale(1.0215,1.05)">1 Aug 05:00</div><div class="t " style="left:450.1px;top:482.45px;color:#000;transform:scale(1.0215,1.05)">5 Aug 21:00</div><div class="t " style="left:514.1px;top:482.45px;color:#000;transform:scale(1.0215,1.05)">8 Aug 13:00</div><div class="t " style="left:578.1px;top:482.45px;color:#000;transform:scale(1.0215,1.05)">13 Aug 05:00</div>
</body></html>
